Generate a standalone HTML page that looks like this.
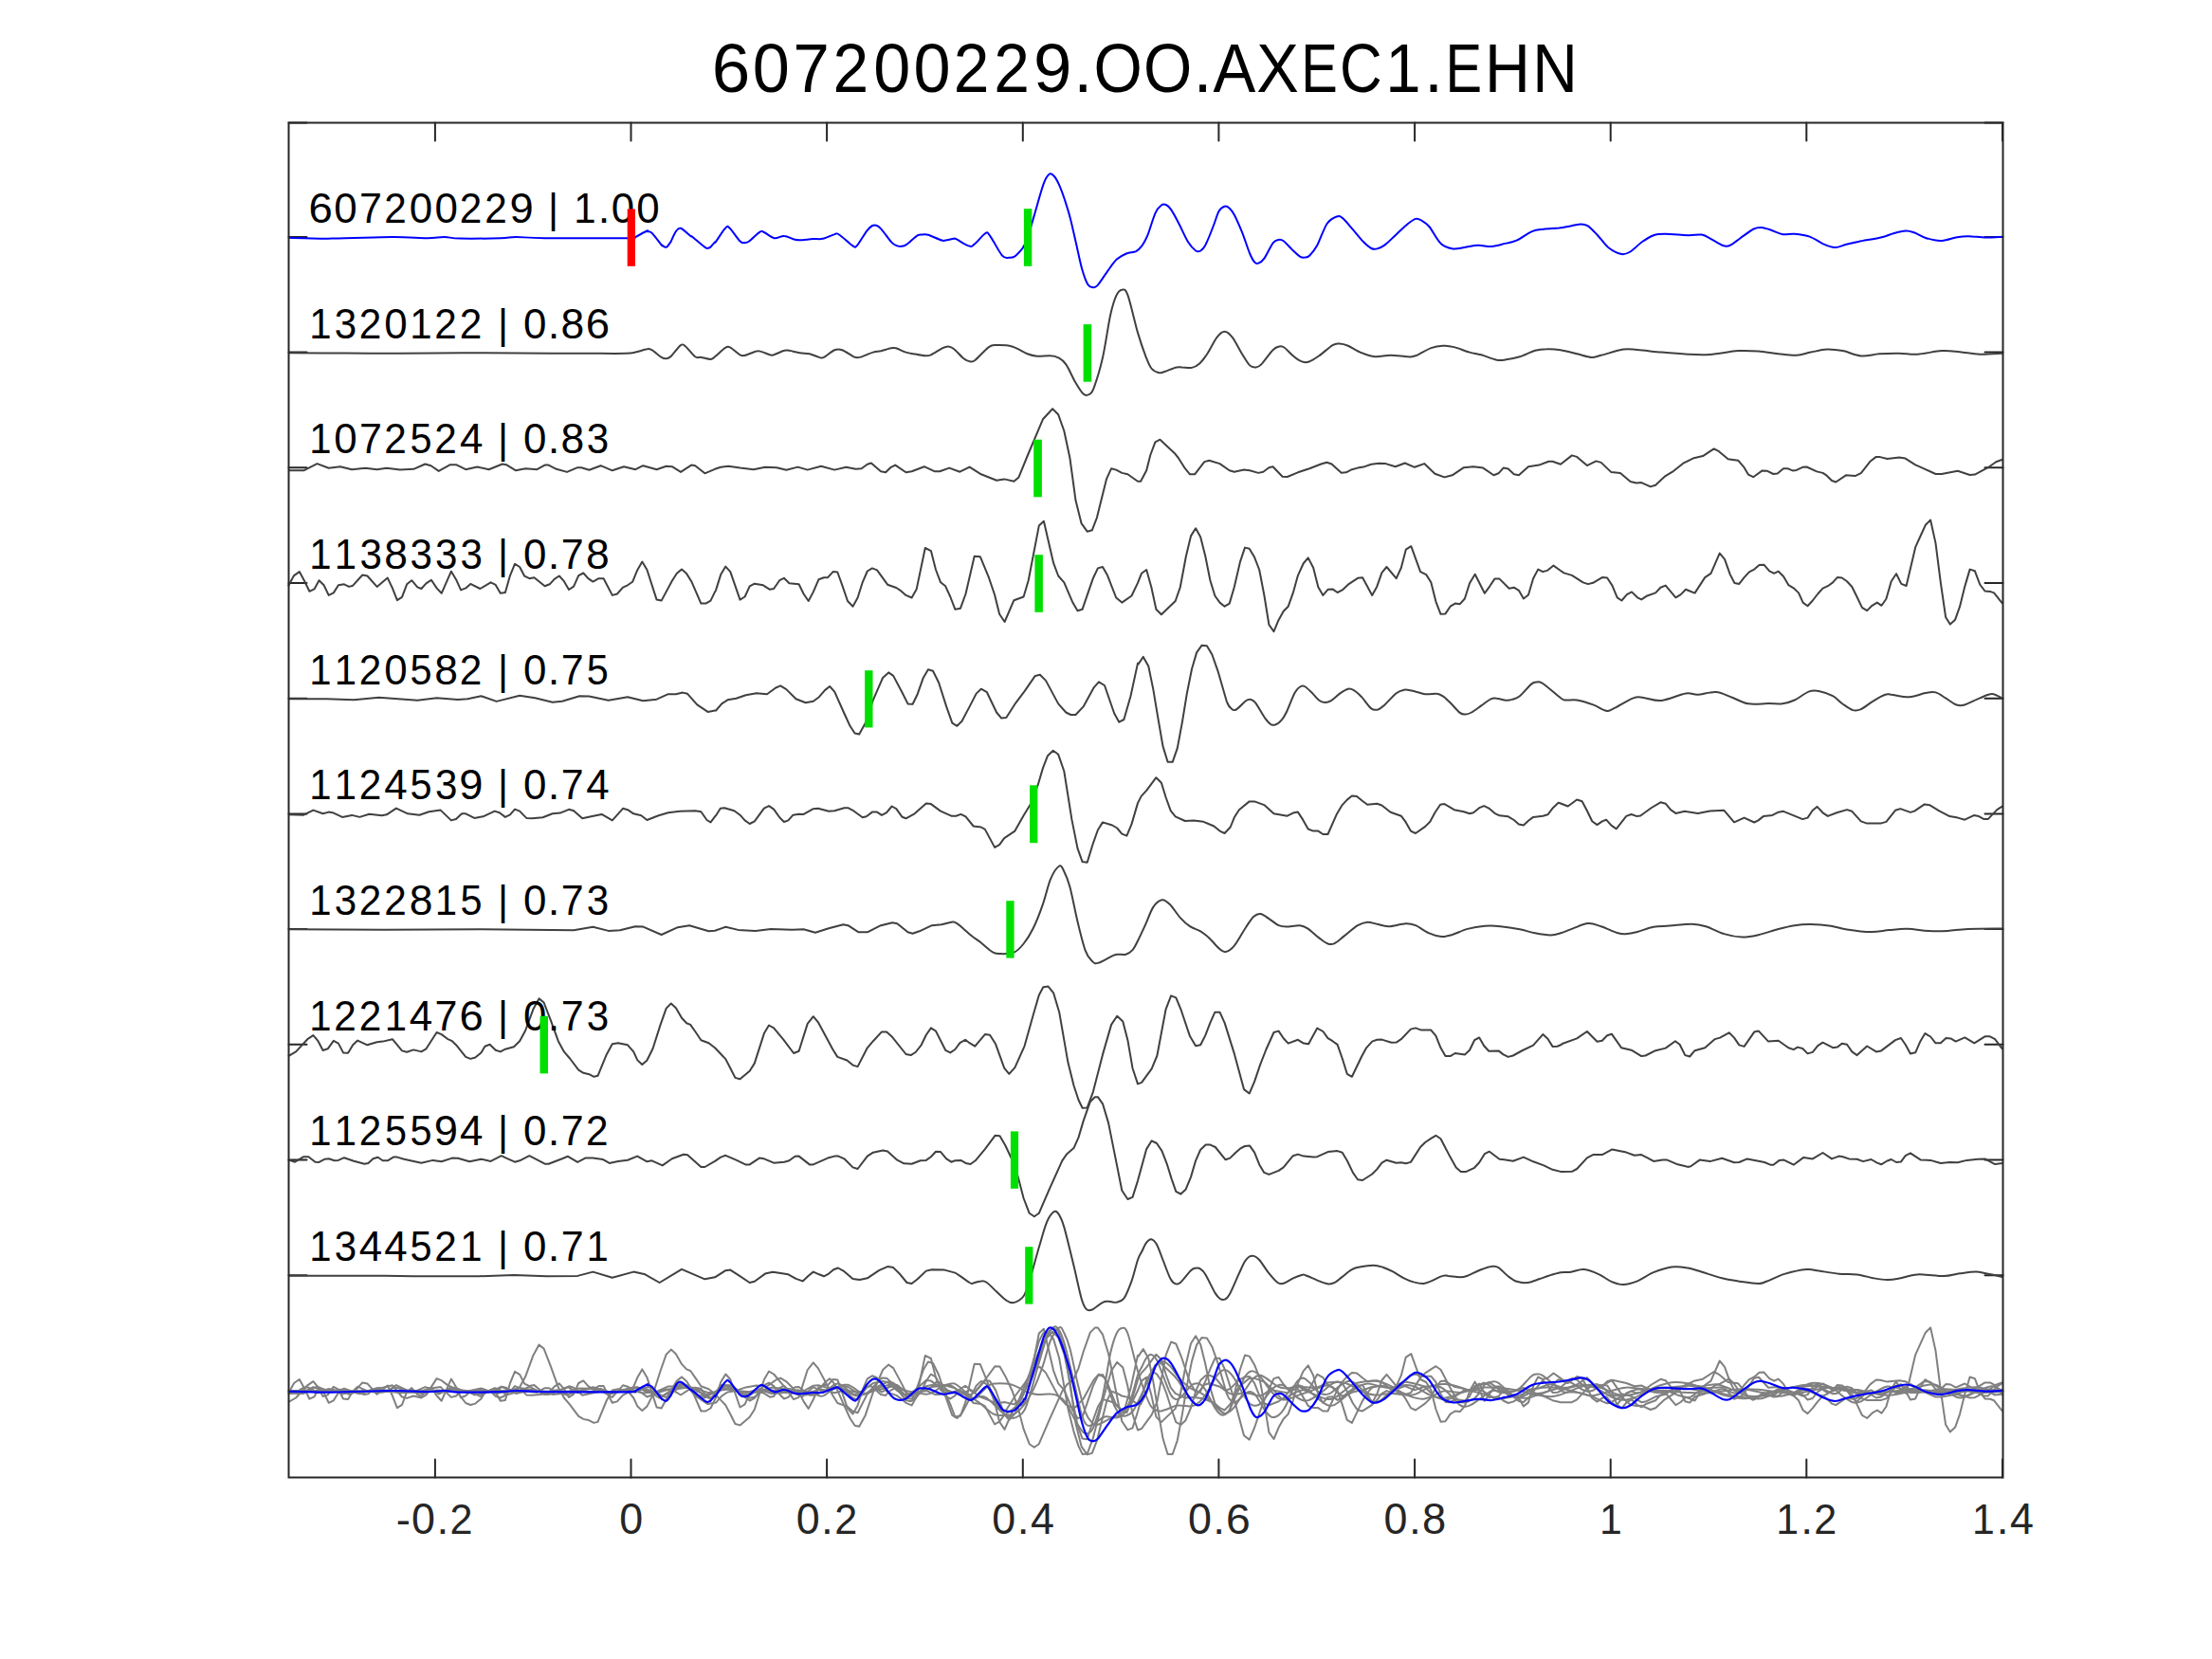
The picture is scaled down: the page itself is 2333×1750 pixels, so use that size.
<!DOCTYPE html>
<html><head><meta charset="utf-8"><style>
html,body{margin:0;padding:0;background:#fff;width:2333px;height:1750px;overflow:hidden}
svg{display:block}
text{font-family:"Liberation Sans",sans-serif}
.tl{font-size:45.3px;fill:#262626}
.ti{font-size:72.0px;fill:#000}
.lb{font-size:45.0px;fill:#000}
</style></head><body>
<svg width="2333" height="1750" viewBox="0 0 2333 1750">
<rect x="0" y="0" width="2333" height="1750" fill="#fff"/><path d="M458.9 129.5V148.5M458.9 1558.5V1539.5M665.5 129.5V148.5M665.5 1558.5V1539.5M872.1 129.5V148.5M872.1 1558.5V1539.5M1078.8 129.5V148.5M1078.8 1558.5V1539.5M1285.4 129.5V148.5M1285.4 1558.5V1539.5M1492.1 129.5V148.5M1492.1 1558.5V1539.5M1698.7 129.5V148.5M1698.7 1558.5V1539.5M1905.3 129.5V148.5M1905.3 1558.5V1539.5M2112.0 129.5V148.5M2112.0 1558.5V1539.5M304.5 129.5H323.5M2112.5 129.5H2093.5M304.5 249.9H323.5M2112.5 249.9H2093.5M304.5 371.6H323.5M2112.5 371.6H2093.5M304.5 493.3H323.5M2112.5 493.3H2093.5M304.5 615.0H323.5M2112.5 615.0H2093.5M304.5 736.7H323.5M2112.5 736.7H2093.5M304.5 858.4H323.5M2112.5 858.4H2093.5M304.5 980.1H323.5M2112.5 980.1H2093.5M304.5 1101.8H323.5M2112.5 1101.8H2093.5M304.5 1223.5H323.5M2112.5 1223.5H2093.5M304.5 1345.2H323.5M2112.5 1345.2H2093.5M304.5 1466.9H323.5M2112.5 1466.9H2093.5" stroke="#262626" stroke-width="2" stroke-linecap="round" fill="none"/><text transform="translate(417.75 1617.60) scale(1.011 1)" class="tl">-</text><text transform="translate(434.09 1617.60) scale(0.989 1)" class="tl">0</text><text transform="translate(460.42 1617.60) scale(1.015 1)" class="tl">.</text><text transform="translate(474.52 1617.60) scale(0.953 1)" class="tl">2</text><text transform="translate(653.33 1617.60) scale(0.989 1)" class="tl">0</text><text transform="translate(839.70 1617.60) scale(0.989 1)" class="tl">0</text><text transform="translate(866.03 1617.60) scale(1.015 1)" class="tl">.</text><text transform="translate(880.13 1617.60) scale(0.953 1)" class="tl">2</text><text transform="translate(1046.34 1617.60) scale(0.989 1)" class="tl">0</text><text transform="translate(1072.67 1617.60) scale(1.015 1)" class="tl">.</text><text transform="translate(1086.88 1617.60) scale(0.989 1)" class="tl">4</text><text transform="translate(1252.98 1617.60) scale(0.989 1)" class="tl">0</text><text transform="translate(1279.31 1617.60) scale(1.015 1)" class="tl">.</text><text transform="translate(1293.09 1617.60) scale(1.023 1)" class="tl">6</text><text transform="translate(1459.62 1617.60) scale(0.989 1)" class="tl">0</text><text transform="translate(1485.95 1617.60) scale(1.015 1)" class="tl">.</text><text transform="translate(1500.03 1617.60) scale(0.999 1)" class="tl">8</text><text transform="translate(1686.89 1617.60) scale(0.944 1)" class="tl">1</text><text transform="translate(1873.26 1617.60) scale(0.944 1)" class="tl">1</text><text transform="translate(1899.23 1617.60) scale(1.015 1)" class="tl">.</text><text transform="translate(1913.33 1617.60) scale(0.953 1)" class="tl">2</text><text transform="translate(2079.90 1617.60) scale(0.944 1)" class="tl">1</text><text transform="translate(2105.87 1617.60) scale(1.015 1)" class="tl">.</text><text transform="translate(2120.08 1617.60) scale(0.989 1)" class="tl">4</text><text transform="translate(750.71 96.80) scale(1.011 1)" class="ti">6</text><text transform="translate(793.83 96.80) scale(0.976 1)" class="ti">0</text><text transform="translate(836.56 96.80) scale(0.955 1)" class="ti">7</text><text transform="translate(878.53 96.80) scale(0.941 1)" class="ti">2</text><text transform="translate(921.14 96.80) scale(0.976 1)" class="ti">0</text><text transform="translate(963.57 96.80) scale(0.976 1)" class="ti">0</text><text transform="translate(1005.83 96.80) scale(0.941 1)" class="ti">2</text><text transform="translate(1048.26 96.80) scale(0.941 1)" class="ti">2</text><text transform="translate(1090.02 96.80) scale(1.009 1)" class="ti">9</text><text transform="translate(1132.20 96.80) scale(1.002 1)" class="ti">.</text><text transform="translate(1153.48 96.80) scale(0.916 1)" class="ti">O</text><text transform="translate(1205.98 96.80) scale(0.916 1)" class="ti">O</text><text transform="translate(1258.39 96.80) scale(1.002 1)" class="ti">.</text><text transform="translate(1279.44 96.80) scale(0.933 1)" class="ti">A</text><text transform="translate(1325.16 96.80) scale(0.927 1)" class="ti">X</text><text transform="translate(1372.17 96.80) scale(0.803 1)" class="ti">E</text><text transform="translate(1413.11 96.80) scale(0.860 1)" class="ti">C</text><text transform="translate(1461.29 96.80) scale(0.933 1)" class="ti">1</text><text transform="translate(1502.06 96.80) scale(1.002 1)" class="ti">.</text><text transform="translate(1524.52 96.80) scale(0.803 1)" class="ti">E</text><text transform="translate(1565.96 96.80) scale(0.921 1)" class="ti">H</text><text transform="translate(1616.15 96.80) scale(0.915 1)" class="ti">N</text><path d="M304.0 250.8C311.8 251.0 332.5 251.8 350.8 251.6C369.1 251.5 397.2 250.1 413.9 250.0C430.5 249.9 441.3 251.2 450.5 251.2C459.6 251.2 463.0 249.9 468.8 250.0C474.5 250.1 475.2 251.4 485.1 251.6C494.9 251.8 517.9 251.5 527.8 251.2C537.6 251.0 536.3 250.0 544.1 250.0C551.9 250.0 555.2 251.0 574.6 251.2C593.9 251.4 645.4 251.3 660.0 251.3C674.6 251.3 660.5 251.3 662.0 251.2C663.6 251.2 668.1 251.1 669.5 250.9C670.8 250.7 668.0 251.4 670.2 250.2C672.3 249.0 680.3 244.5 682.4 243.5C684.5 242.5 681.9 243.9 682.8 244.2C683.6 244.6 685.0 243.4 687.5 245.7C690.0 248.1 695.9 256.2 697.6 258.4C699.4 260.5 697.1 258.1 698.0 258.5C698.8 258.9 701.1 261.3 702.7 260.8C704.3 260.2 706.6 256.1 707.5 255.1C708.3 254.0 706.9 256.1 707.8 254.3C708.7 252.5 711.2 246.4 712.9 244.1C714.6 241.9 715.3 240.0 717.9 240.8C720.5 241.6 726.5 247.6 728.4 249.0C730.2 250.4 728.4 248.7 729.2 249.2C730.0 249.7 730.6 250.2 733.1 252.2C735.6 254.2 741.9 259.9 744.4 261.4C747.0 262.9 747.7 261.1 748.5 261.0C749.3 260.9 748.3 261.7 749.2 260.8C750.2 259.8 753.1 256.3 754.0 255.3C754.9 254.4 753.0 257.6 754.9 255.1C756.8 252.6 762.9 242.6 765.4 240.3C767.8 237.9 767.2 238.4 769.7 240.8C772.3 243.2 778.0 252.0 780.6 254.5C783.2 257.0 783.7 256.0 785.3 256.0C786.9 256.0 787.4 256.4 790.1 254.5C792.8 252.6 798.8 246.2 801.5 244.6C804.1 243.0 803.3 243.9 805.8 245.0C808.4 246.1 813.1 250.6 816.6 251.3C820.2 251.9 823.4 248.7 827.1 249.0C830.7 249.2 835.3 252.1 838.5 252.8C841.6 253.5 842.9 253.3 846.1 253.2C849.2 253.0 853.8 252.2 857.5 252.0C861.1 251.8 864.1 252.7 867.9 251.8C871.7 251.0 877.4 247.8 880.3 247.1C883.1 246.4 881.8 245.4 885.0 247.5C888.2 249.5 896.1 257.3 899.2 259.2C902.4 261.1 901.5 261.5 904.0 258.9C906.5 256.2 911.7 246.8 914.4 243.3C917.1 239.8 918.4 238.9 920.1 238.0C921.9 237.1 923.3 237.3 924.9 238.0C926.5 238.6 927.1 238.9 929.6 241.8C932.2 244.7 937.4 252.5 940.1 255.4C942.8 258.4 944.0 258.5 945.8 259.2C947.5 260.0 948.8 260.0 950.5 259.8C952.2 259.6 953.4 259.8 956.2 257.9C959.1 256.0 964.7 250.2 967.6 248.4C970.4 246.7 971.4 247.6 973.3 247.5C975.2 247.4 975.7 246.8 979.0 247.8C982.3 248.9 990.2 252.6 993.2 253.5C996.2 254.5 995.0 253.8 997.0 253.5C999.1 253.3 1003.7 252.1 1005.6 251.8C1007.5 251.6 1005.7 250.9 1008.4 252.2C1011.1 253.5 1018.5 258.5 1021.7 259.4C1024.9 260.4 1024.6 260.1 1027.4 257.9C1030.3 255.8 1036.1 248.2 1038.8 246.5C1041.5 244.8 1040.5 244.1 1043.5 247.8C1046.6 251.6 1053.4 265.3 1056.8 269.3C1060.3 273.3 1062.2 271.6 1064.4 271.8C1066.6 272.0 1067.7 272.1 1070.0 270.6C1072.3 269.0 1076.5 264.4 1078.1 262.4C1079.8 260.5 1079.3 259.9 1080.0 258.9C1080.7 257.8 1080.5 261.3 1082.2 256.3C1083.9 251.3 1087.3 239.2 1090.3 228.9C1093.4 218.5 1097.8 201.8 1100.5 194.3C1103.2 186.7 1104.8 185.1 1106.6 183.7C1108.5 182.3 1110.0 184.0 1111.7 185.7C1113.4 187.5 1114.9 190.1 1116.8 194.3C1118.7 198.4 1120.9 204.4 1122.9 210.5C1124.9 216.7 1127.0 223.1 1129.0 230.9C1131.0 238.7 1133.1 248.5 1135.1 257.3C1137.1 266.2 1139.2 276.7 1141.2 283.8C1143.2 290.9 1145.4 296.8 1147.3 300.1C1149.2 303.3 1150.7 302.9 1152.4 303.1C1154.1 303.3 1154.9 303.8 1157.5 301.1C1160.0 298.4 1164.3 291.4 1167.6 286.8C1171.0 282.3 1174.4 276.8 1177.8 273.6C1181.2 270.4 1184.6 268.9 1188.0 267.5C1191.4 266.1 1195.5 266.4 1198.2 265.1C1200.9 263.7 1202.2 262.2 1204.3 259.4C1206.3 256.6 1208.0 253.9 1210.4 248.2C1212.7 242.4 1216.1 230.0 1218.5 224.8C1220.9 219.5 1222.7 218.1 1224.6 216.7C1226.5 215.2 1228.0 215.4 1229.7 216.0C1231.4 216.7 1232.6 217.6 1234.8 220.7C1237.0 223.9 1239.9 229.2 1242.9 235.0C1246.0 240.7 1250.0 250.4 1253.1 255.3C1256.1 260.2 1259.0 262.9 1261.2 264.5C1263.4 266.0 1264.6 265.5 1266.3 264.5C1268.0 263.4 1269.2 262.6 1271.4 258.4C1273.6 254.1 1277.2 245.0 1279.5 239.0C1281.9 233.1 1283.6 226.3 1285.6 222.8C1287.7 219.2 1289.9 218.2 1291.7 217.7C1293.6 217.2 1295.1 218.2 1296.8 219.7C1298.5 221.2 1299.7 222.6 1301.9 226.8C1304.1 231.1 1307.3 238.4 1310.1 245.1C1312.8 251.9 1316.0 262.3 1318.2 267.5C1320.4 272.8 1321.8 275.0 1323.3 276.7C1324.8 278.4 1325.7 278.4 1327.3 277.7C1329.0 277.0 1330.9 276.2 1333.4 272.6C1336.0 269.0 1340.1 259.6 1342.6 256.3C1345.1 253.0 1346.8 253.2 1348.7 252.9C1350.6 252.5 1351.4 252.5 1353.8 254.3C1356.2 256.1 1360.1 260.7 1362.9 263.4C1365.8 266.2 1368.9 269.2 1371.1 270.6C1373.3 271.9 1374.5 271.7 1376.2 271.6C1377.9 271.4 1379.1 271.8 1381.3 269.5C1383.5 267.3 1386.3 264.0 1389.4 258.4C1392.4 252.8 1396.2 241.0 1399.6 236.0C1403.0 231.0 1407.0 229.5 1409.7 228.5C1412.5 227.4 1413.1 227.8 1415.8 229.9C1418.6 232.0 1422.3 236.8 1426.0 241.1C1429.7 245.3 1434.8 251.8 1438.2 255.3C1441.6 258.8 1444.0 260.8 1446.4 262.0C1448.7 263.2 1450.1 263.0 1452.5 262.4C1454.8 261.8 1457.2 260.9 1460.6 258.4C1464.0 255.8 1468.7 250.9 1472.8 247.2C1476.9 243.4 1481.6 238.7 1485.0 236.0C1488.4 233.3 1490.8 231.5 1493.1 230.9C1495.5 230.3 1496.9 231.2 1499.2 232.5C1501.6 233.9 1503.9 234.9 1507.4 239.0C1510.8 243.2 1515.8 253.4 1520.0 257.3C1524.2 261.2 1528.3 261.8 1532.4 262.4C1536.5 263.0 1540.2 261.6 1544.6 261.0C1549.0 260.4 1554.1 258.9 1558.8 258.8C1563.6 258.6 1568.3 260.3 1573.1 260.0C1577.8 259.7 1582.9 258.0 1587.3 256.9C1591.7 255.9 1594.8 255.8 1599.5 253.7C1604.3 251.5 1611.0 246.1 1615.8 244.1C1620.5 242.1 1623.2 242.3 1628.0 241.7C1632.7 241.1 1639.5 241.0 1644.3 240.5C1649.0 239.9 1652.6 239.1 1656.5 238.4C1660.4 237.7 1664.6 236.4 1667.7 236.4C1670.7 236.4 1671.9 236.5 1674.8 238.4C1677.7 240.4 1681.2 244.3 1685.0 248.2C1688.7 252.1 1692.9 258.5 1697.2 261.8C1701.4 265.1 1706.7 267.5 1710.4 268.1C1714.1 268.7 1716.0 267.6 1719.5 265.5C1723.1 263.3 1727.7 258.2 1731.7 255.3C1735.8 252.4 1739.9 249.6 1744.0 248.2C1748.0 246.8 1750.1 246.8 1756.2 246.8C1762.3 246.8 1774.1 248.0 1780.6 248.2C1787.0 248.3 1790.7 246.9 1794.8 247.6C1798.9 248.3 1801.3 250.4 1805.0 252.3C1808.7 254.2 1814.0 257.8 1817.2 259.0C1820.4 260.1 1821.3 260.3 1824.3 259.0C1827.4 257.7 1831.3 254.2 1835.5 251.2C1839.7 248.3 1846.0 243.3 1849.7 241.5C1853.5 239.6 1854.8 239.8 1857.9 240.0C1860.9 240.3 1864.3 241.5 1868.0 242.7C1871.8 243.9 1876.2 246.5 1880.3 247.2C1884.3 247.8 1887.7 246.4 1892.5 246.8C1897.2 247.2 1903.6 247.8 1908.7 249.6C1913.8 251.4 1918.6 255.4 1923.0 257.3C1927.4 259.2 1931.1 260.9 1935.2 261.0C1939.2 261.1 1943.3 258.8 1947.4 257.7C1951.5 256.7 1953.8 256.2 1960.0 254.9C1966.2 253.6 1978.6 251.7 1984.8 250.2C1991.0 248.8 1992.8 247.3 1997.0 246.2C2001.3 245.0 2006.5 243.6 2010.2 243.5C2014.0 243.4 2015.8 244.3 2019.4 245.5C2023.0 246.8 2026.9 249.8 2031.6 251.2C2036.3 252.6 2042.5 254.1 2047.9 253.9C2053.3 253.7 2059.4 251.0 2064.2 250.2C2068.9 249.4 2071.3 249.1 2076.4 249.2C2081.4 249.3 2088.6 250.5 2094.7 250.6C2100.7 250.7 2109.6 249.9 2112.6 249.8" stroke="#0000ff" stroke-width="2" fill="none" stroke-linejoin="round"/>
<path d="M304.0 372.2C314.2 372.3 345.4 372.5 365.0 372.6C384.7 372.7 401.6 372.9 422.0 372.8C442.3 372.8 466.1 372.3 487.1 372.2C508.1 372.2 525.1 372.5 548.1 372.6C571.2 372.7 606.8 372.8 625.4 372.8C644.1 372.9 652.6 373.0 660.0 372.8C667.5 372.6 666.5 372.4 670.2 371.6C673.9 370.8 679.5 368.6 682.4 368.2C685.3 367.7 684.9 367.7 687.5 369.2C690.0 370.6 695.1 375.4 697.6 376.9C700.2 378.4 701.0 378.5 702.7 378.3C704.4 378.1 705.3 378.1 707.8 375.7C710.4 373.3 715.4 365.8 718.0 364.1C720.5 362.4 720.5 363.5 723.1 365.5C725.6 367.5 730.5 374.4 733.2 376.3C736.0 378.2 736.6 376.5 739.4 376.9C742.1 377.3 747.1 379.0 749.5 378.9C752.0 378.8 751.4 378.3 754.0 376.3C756.6 374.3 762.5 368.3 765.3 366.7C768.0 365.1 767.8 365.5 770.3 366.7C772.9 368.0 778.0 372.9 780.5 374.3C783.1 375.6 782.9 375.4 785.6 374.9C788.3 374.3 794.1 371.5 796.8 370.8C799.5 370.1 799.3 370.0 801.9 370.6C804.4 371.2 809.7 373.6 812.0 374.3C814.4 374.9 813.6 375.0 816.1 374.3C818.7 373.5 824.6 370.5 827.3 369.8C830.0 369.0 829.7 369.4 832.4 369.8C835.1 370.2 840.0 371.6 843.6 372.2C847.1 372.8 850.4 372.5 853.8 373.2C857.1 374.0 861.4 376.3 863.9 376.9C866.5 377.5 866.3 378.2 869.0 376.9C871.7 375.6 877.0 370.5 880.2 369.2C883.4 367.9 884.9 368.0 888.3 369.2C891.7 370.4 897.5 375.0 900.5 376.3C903.6 377.6 903.3 377.7 906.6 376.9C910.0 376.1 917.2 372.7 920.9 371.6C924.6 370.5 925.6 370.9 929.0 370.2C932.4 369.4 938.3 367.5 941.2 367.1C944.1 366.7 943.9 367.0 946.3 367.7C948.7 368.5 952.2 370.6 955.5 371.6C958.7 372.6 962.3 373.0 965.6 373.6C969.0 374.3 973.1 375.2 975.8 375.3C978.5 375.4 978.9 375.6 981.9 374.3C985.0 372.9 991.1 368.6 994.1 367.1C997.2 365.7 998.2 365.3 1000.2 365.5C1002.3 365.7 1003.6 366.0 1006.3 368.2C1009.0 370.3 1013.6 376.1 1016.5 378.3C1019.4 380.5 1021.6 381.1 1023.6 381.4C1025.7 381.6 1025.5 382.3 1028.7 379.7C1031.9 377.2 1039.2 368.7 1042.9 366.1C1046.7 363.5 1047.0 364.2 1051.1 364.1C1055.2 364.0 1061.9 364.0 1067.4 365.5C1072.8 367.0 1079.2 371.5 1083.6 373.2C1088.0 374.9 1089.7 375.3 1093.8 375.7C1097.9 376.0 1104.3 375.0 1108.0 375.3C1111.8 375.5 1113.5 375.8 1116.2 377.3C1118.9 378.8 1121.3 380.0 1124.3 384.4C1127.4 388.8 1131.4 398.6 1134.5 403.8C1137.5 408.9 1140.3 413.5 1142.6 415.6C1145.0 417.6 1146.9 417.1 1148.7 416.0C1150.6 414.8 1151.4 415.3 1153.8 408.8C1156.2 402.4 1160.1 390.0 1163.0 377.3C1165.9 364.6 1168.7 343.4 1171.1 332.5C1173.5 321.7 1175.2 316.7 1177.2 312.2C1179.2 307.7 1181.3 305.9 1183.3 305.7C1185.4 305.5 1186.6 303.7 1189.4 311.2C1192.2 318.7 1196.9 340.2 1200.0 350.9C1203.1 361.5 1205.8 369.0 1208.2 375.3C1210.6 381.5 1211.9 385.5 1214.3 388.5C1216.7 391.5 1220.1 392.6 1222.4 393.2C1224.8 393.8 1225.5 392.9 1228.5 392.0C1231.6 391.0 1237.7 388.2 1240.8 387.5C1243.8 386.7 1244.1 387.4 1246.9 387.5C1249.6 387.5 1254.0 388.6 1257.0 387.9C1260.1 387.2 1262.5 385.8 1265.2 383.4C1267.9 381.0 1270.3 377.8 1273.3 373.2C1276.4 368.7 1280.4 359.8 1283.5 355.9C1286.5 352.0 1288.9 349.8 1291.6 349.8C1294.3 349.8 1296.7 352.0 1299.8 355.9C1302.8 359.8 1306.9 368.3 1309.9 373.2C1313.0 378.2 1315.7 383.1 1318.1 385.4C1320.4 387.8 1322.1 387.6 1324.2 387.5C1326.2 387.3 1327.2 387.5 1330.3 384.4C1333.3 381.4 1339.3 372.3 1342.5 369.2C1345.7 366.0 1347.6 365.9 1349.6 365.5C1351.6 365.1 1352.1 364.9 1354.7 366.7C1357.2 368.5 1361.8 373.8 1364.9 376.3C1367.9 378.7 1370.4 380.5 1373.0 381.4C1375.5 382.3 1377.1 382.8 1380.1 381.8C1383.2 380.8 1387.1 378.2 1391.3 375.3C1395.5 372.3 1402.0 366.2 1405.5 364.1C1409.1 361.9 1409.9 362.4 1412.7 362.5C1415.4 362.6 1417.9 363.1 1421.8 364.7C1425.7 366.3 1431.3 370.3 1436.1 372.2C1440.8 374.2 1445.2 375.9 1450.3 376.3C1455.4 376.7 1460.8 374.7 1466.6 374.7C1472.3 374.7 1480.5 376.2 1484.9 376.3C1489.3 376.4 1488.9 376.8 1493.0 375.3C1497.1 373.7 1504.5 368.9 1509.3 367.1C1514.0 365.4 1517.4 364.9 1521.5 364.7C1525.6 364.5 1529.0 365.0 1533.7 366.1C1538.5 367.3 1545.2 370.3 1550.0 371.6C1554.7 373.0 1557.4 372.9 1562.2 374.3C1566.9 375.6 1574.1 378.9 1578.5 379.7C1582.9 380.6 1584.6 379.9 1588.6 379.3C1592.7 378.8 1597.8 377.9 1602.9 376.3C1608.0 374.7 1614.4 371.1 1619.1 369.8C1623.9 368.4 1626.9 368.3 1631.4 368.2C1635.8 368.0 1640.7 368.3 1646.0 369.2C1651.3 370.0 1657.9 372.0 1663.2 373.3C1668.6 374.6 1673.9 376.7 1678.1 376.9C1682.4 377.2 1683.1 376.2 1688.7 374.8C1694.4 373.4 1705.7 369.6 1712.1 368.6C1718.5 367.7 1720.3 368.6 1727.0 369.1C1733.7 369.6 1743.6 370.8 1752.5 371.6C1761.3 372.4 1771.6 373.3 1780.1 373.7C1788.6 374.1 1794.6 374.5 1803.5 373.9C1812.3 373.3 1824.7 370.7 1833.2 370.1C1841.7 369.6 1847.4 370.0 1854.5 370.5C1861.6 371.1 1869.0 372.6 1875.7 373.3C1882.5 374.0 1889.2 375.1 1894.8 374.8C1900.5 374.5 1904.4 372.6 1909.7 371.6C1915.0 370.6 1921.1 368.9 1926.7 368.6C1932.4 368.4 1937.7 369.0 1943.7 370.1C1949.7 371.3 1956.5 374.9 1962.8 375.4C1969.2 376.0 1975.2 373.8 1982.0 373.3C1988.7 372.8 1996.5 372.6 2003.2 372.7C2009.9 372.7 2014.9 374.2 2022.3 373.7C2029.8 373.3 2040.4 370.5 2047.8 370.1C2055.3 369.7 2060.2 370.6 2067.0 371.2C2073.7 371.8 2080.7 373.5 2088.2 373.7C2095.7 374.0 2108.0 372.8 2112.0 372.7" stroke="#404040" stroke-width="2" fill="none" stroke-linejoin="round"/>
<path d="M304.0 496.3 320.3 496.3 334.5 489.1 346.7 493.8 358.9 492.2 371.1 495.2 385.4 493.8 397.6 495.2 407.8 493.8 422.0 495.6 436.2 494.8 448.4 489.5 454.5 491.2 462.7 496.9 474.9 490.2 481.0 490.2 491.2 495.2 503.4 492.6 515.6 495.2 529.8 489.5 533.9 490.2 544.1 496.3 554.2 494.2 566.4 495.2 574.6 490.6 578.6 490.6 586.8 494.8 598.0 497.9 609.2 493.2 613.2 493.2 621.4 495.8 633.6 491.2 645.8 496.3 658.0 492.2 670.2 495.2 678.3 491.2 692.6 495.2 702.7 491.8 708.8 492.2 718.0 497.9 729.2 490.6 733.2 491.2 743.4 499.3 754.0 494.8 760.2 492.8 768.3 491.8 780.5 493.6 794.8 495.2 807.0 492.8 819.2 493.2 829.3 495.8 841.5 492.6 851.7 495.6 866.0 491.8 880.2 495.6 892.4 492.8 902.6 494.8 908.7 494.2 914.8 489.7 918.9 488.5 929.0 497.3 934.1 498.3 939.2 493.2 944.3 490.6 955.5 498.3 961.6 497.3 974.8 492.2 986.0 497.3 991.1 497.3 1001.2 493.6 1012.4 497.7 1022.6 492.6 1034.8 500.3 1051.1 506.8 1059.2 505.4 1069.4 507.8 1074.5 503.4 1083.6 481.0 1099.9 442.3 1110.1 431.2 1116.2 437.3 1122.3 454.5 1128.4 483.0 1134.5 527.8 1140.6 552.2 1146.7 560.7 1151.8 559.3 1156.9 546.1 1167.0 505.4 1172.1 494.2 1177.2 495.6 1183.3 498.9 1189.4 500.3 1200.0 507.8 1203.1 507.8 1209.2 496.3 1213.3 480.0 1218.4 466.3 1223.5 463.7 1238.7 477.9 1242.8 483.0 1249.9 494.2 1255.0 500.3 1260.1 500.3 1270.3 487.1 1275.3 485.7 1286.5 489.1 1296.7 496.3 1301.8 497.7 1312.0 495.6 1318.1 496.3 1327.2 498.9 1332.3 497.7 1338.4 493.2 1342.5 492.2 1352.6 502.8 1357.7 503.0 1368.9 498.3 1381.1 494.2 1393.3 489.5 1399.4 487.7 1404.5 489.5 1414.7 498.7 1419.8 498.3 1425.9 495.2 1432.0 493.6 1438.1 492.6 1446.2 489.7 1454.4 488.7 1461.5 489.1 1471.7 492.2 1481.8 488.5 1492.0 492.8 1502.2 489.1 1513.4 499.7 1523.5 503.4 1531.7 501.3 1543.9 493.2 1554.0 492.2 1564.2 493.6 1575.4 501.3 1580.5 499.3 1585.6 493.6 1590.7 494.6 1596.8 500.3 1601.9 501.3 1612.0 492.2 1623.2 490.6 1633.4 486.7 1637.5 486.7 1646.0 489.7 1657.9 480.4 1663.2 481.9 1673.9 491.1 1683.4 486.4 1688.7 487.9 1699.4 498.1 1708.9 498.9 1719.6 508.1 1725.9 509.5 1731.2 509.1 1740.8 513.4 1746.1 511.7 1755.7 502.7 1765.2 496.8 1775.9 488.3 1786.5 483.2 1796.0 481.1 1807.7 473.4 1813.0 476.2 1822.6 484.3 1833.2 485.7 1839.6 493.2 1843.9 500.6 1849.2 503.2 1858.7 496.4 1864.0 496.8 1870.4 500.0 1874.7 499.6 1881.0 494.2 1885.3 494.2 1890.6 496.4 1894.8 495.9 1901.2 492.8 1905.5 492.5 1916.1 497.4 1922.5 498.9 1926.7 501.7 1932.0 507.0 1936.3 508.5 1946.9 501.3 1956.5 502.1 1962.8 499.1 1972.4 486.8 1978.8 481.9 1983.0 482.1 1990.5 484.0 2003.2 482.6 2009.6 483.6 2020.2 490.4 2028.7 494.2 2041.5 500.0 2047.8 500.0 2064.8 496.8 2077.6 501.0 2082.9 500.6 2096.7 493.2 2105.2 487.2 2112.0 484.7" stroke="#404040" stroke-width="2" fill="none" stroke-linejoin="round"/>
<path d="M304.0 618.3 310.1 607.1 315.8 603.1 321.3 613.2 326.4 623.8 331.5 621.4 336.5 612.2 341.6 617.3 346.7 627.9 351.8 625.4 356.9 617.3 363.0 616.3 368.1 618.9 372.2 617.7 382.3 606.5 387.4 607.5 397.6 618.9 408.8 609.6 413.9 620.4 418.9 633.2 424.0 629.9 429.1 616.3 434.2 612.2 440.3 619.3 444.4 621.0 449.5 615.3 454.9 611.8 460.6 620.4 465.7 625.8 475.9 602.7 481.0 611.2 486.1 622.4 491.2 620.4 496.2 615.9 506.4 621.0 517.6 614.3 522.7 616.9 527.8 625.8 532.9 625.0 538.0 607.1 543.0 594.9 548.1 598.0 553.2 607.7 558.3 610.2 563.4 609.2 574.6 618.3 579.7 616.3 584.7 610.8 589.8 607.5 594.9 613.2 600.0 622.0 605.1 618.7 610.2 607.1 615.3 604.5 620.3 610.2 625.4 613.6 631.5 610.2 636.6 610.2 645.8 627.9 650.9 626.5 657.0 619.7 662.0 617.3 667.1 613.8 672.2 601.4 677.3 592.5 682.4 601.0 692.6 632.6 697.6 633.6 708.8 612.8 713.9 604.7 719.0 600.6 724.1 605.1 729.2 613.2 739.4 636.6 744.4 636.6 749.5 633.6 754.0 624.4 755.1 622.4 760.2 606.1 765.3 597.6 770.3 603.1 780.5 632.6 785.6 629.5 790.7 618.3 795.8 615.7 804.9 617.3 812.0 621.8 816.1 621.0 822.2 612.2 826.9 609.8 832.4 615.3 842.6 616.3 847.6 626.5 852.7 634.0 857.8 624.4 863.5 611.2 869.0 609.2 873.1 609.2 878.6 603.1 883.3 603.5 888.3 617.3 894.0 634.0 899.5 639.7 904.6 630.5 909.7 614.3 914.8 602.5 919.9 599.4 925.0 601.4 936.1 616.7 945.3 620.0 950.4 623.4 955.5 627.9 961.6 630.5 966.7 621.4 975.8 578.0 981.9 581.1 987.0 601.0 992.1 614.3 997.2 618.3 1002.3 629.5 1007.3 642.7 1013.0 641.7 1018.5 626.5 1027.7 586.8 1033.8 587.2 1042.9 609.2 1049.1 627.5 1054.1 647.8 1059.6 656.0 1069.4 633.2 1079.6 629.5 1084.7 612.2 1095.8 554.6 1100.9 549.8 1111.1 593.9 1116.2 607.5 1122.3 614.3 1131.4 635.6 1136.5 644.2 1141.6 642.7 1152.8 610.2 1157.9 599.4 1163.0 598.0 1168.1 607.1 1177.2 630.5 1183.3 635.6 1193.5 628.5 1200.0 614.9 1204.1 604.7 1209.2 601.0 1214.3 619.3 1219.4 642.7 1224.9 648.2 1230.6 642.7 1239.7 634.0 1244.8 619.3 1250.9 586.8 1256.0 565.4 1261.1 557.3 1266.2 566.4 1271.3 586.8 1276.4 612.2 1281.4 628.5 1286.5 635.6 1291.6 639.7 1296.7 636.6 1301.8 619.3 1307.9 592.9 1313.0 577.6 1317.7 578.7 1323.1 587.8 1328.2 601.0 1333.3 627.5 1338.4 659.0 1343.5 666.1 1348.6 653.9 1353.7 644.8 1358.7 639.7 1363.8 625.4 1368.9 607.1 1374.6 594.5 1379.7 588.4 1385.2 599.0 1390.3 619.3 1395.4 627.9 1400.5 621.8 1405.5 621.4 1410.6 625.0 1415.7 622.4 1421.8 616.7 1432.0 609.8 1437.1 609.2 1447.2 627.9 1452.3 618.7 1457.4 604.1 1462.5 598.0 1472.7 610.2 1477.8 599.0 1482.8 579.7 1488.3 576.2 1498.1 603.1 1504.2 606.1 1509.3 614.3 1514.4 634.6 1519.5 647.8 1524.5 647.4 1529.6 639.7 1534.7 636.6 1539.8 637.2 1544.9 631.5 1550.0 615.3 1555.7 605.7 1565.8 625.8 1571.3 618.3 1576.4 610.6 1581.5 610.6 1591.7 620.8 1596.8 619.7 1601.9 622.8 1606.9 631.5 1612.0 627.5 1617.1 610.2 1622.2 600.6 1627.3 603.1 1632.4 601.6 1638.5 596.6 1646.0 602.0 1649.4 604.4 1657.9 606.9 1669.6 614.4 1674.9 616.1 1680.2 614.8 1689.8 609.1 1695.1 609.5 1700.4 617.6 1705.7 630.3 1710.4 633.5 1715.9 627.1 1721.0 624.4 1727.0 630.3 1731.2 632.4 1736.6 628.8 1746.1 625.4 1751.4 619.7 1756.7 617.6 1767.4 630.3 1772.7 627.1 1778.0 621.8 1787.5 625.6 1798.2 609.1 1804.5 604.8 1813.7 583.6 1819.0 589.9 1824.7 605.9 1829.4 615.0 1834.3 615.9 1839.6 609.1 1844.9 603.3 1850.2 600.6 1855.5 595.9 1860.4 595.7 1866.2 602.3 1871.1 604.8 1875.7 602.7 1881.0 608.0 1886.3 617.1 1891.7 620.3 1897.0 625.4 1901.6 635.6 1906.5 639.2 1911.8 633.5 1917.2 626.5 1922.5 620.7 1927.8 618.2 1933.1 614.4 1937.8 609.1 1942.7 609.5 1948.0 613.3 1953.3 619.0 1958.6 629.7 1963.9 640.9 1969.2 644.1 1974.5 638.8 1979.8 635.6 1984.5 638.8 1989.4 631.8 1994.7 613.3 2000.0 605.2 2005.3 615.9 2010.6 618.0 2020.2 577.2 2025.5 565.5 2030.8 553.8 2036.1 548.5 2041.5 572.9 2046.8 614.4 2052.1 650.9 2056.8 658.6 2062.1 653.7 2067.0 639.9 2072.3 618.6 2077.6 600.6 2082.9 602.3 2088.2 616.5 2093.5 623.5 2098.8 623.9 2103.1 625.4 2112.0 636.7" stroke="#404040" stroke-width="2" fill="none" stroke-linejoin="round"/>
<path d="M304.0 737.3L344.7 737.3L373.2 738.3L399.6 735.8L440.3 738.7L460.6 736.3L483.0 737.9L493.2 737.3L507.4 734.2L523.7 739.9L548.1 733.8L564.4 736.3L582.7 740.7L592.9 739.7L611.2 734.2L621.4 734.6L641.7 738.7L662.0 735.2L678.3 739.3L692.6 737.7L704.8 732.2L712.9 732.2L720.0 730.6L725.1 731.8L735.3 743.4L746.5 750.9L754.0 749.5L755.1 749.5L761.2 742.4L767.3 738.3L776.4 736.7L786.6 733.2L797.8 731.2L809.0 732.2L818.2 725.5L823.2 723.4L829.3 727.1L839.5 737.3L849.7 741.3L857.8 739.7L863.9 735.2L870.0 728.1L875.1 724.0L880.2 729.7L890.4 752.5L896.5 765.8L901.6 773.5L906.2 774.5L912.7 762.7L920.9 738.3L931.1 714.9L937.2 709.4L942.2 712.9L951.4 730.2L957.5 742.4L962.6 742.8L967.7 732.2L973.8 714.9L978.9 706.3L984.0 707.8L990.1 720.0L998.2 745.4L1004.3 762.7L1009.4 765.8L1014.5 760.7L1022.6 745.4L1029.7 731.6L1034.8 726.7L1040.9 730.2L1051.1 751.5L1056.2 757.6L1061.3 757.0L1071.4 741.3L1080.6 729.1L1091.8 712.9L1096.9 711.8L1103.0 717.9L1116.2 742.4L1124.3 751.5L1129.4 754.0L1134.5 754.0L1142.6 745.4L1153.8 725.1L1158.9 719.4L1165.0 723.0L1175.2 752.5L1180.3 761.7L1185.4 759.0L1192.5 734.2L1200.0 699.6L1200.5 700.7L1205.8 692.9L1211.3 702.7L1216.3 727.1L1221.4 757.6L1226.5 787.1L1231.6 803.8L1236.7 803.8L1241.8 789.1L1246.9 761.7L1251.9 731.2L1257.0 705.7L1262.1 688.4L1267.6 680.7L1272.9 681.3L1278.4 690.5L1284.5 707.8L1293.6 739.3C1296.0 745.9 1297.0 745.9 1298.7 747.4C1300.4 749.0 1301.3 749.8 1303.8 748.5C1306.4 747.1 1311.4 741.1 1314.0 739.3C1316.5 737.5 1317.4 737.5 1319.1 737.9C1320.8 738.2 1321.6 738.1 1324.2 741.3C1326.7 744.6 1331.6 753.8 1334.3 757.6C1337.0 761.4 1338.6 763.0 1340.4 764.1C1342.3 765.2 1343.7 765.1 1345.5 764.3C1347.4 763.6 1349.8 761.8 1351.6 759.6C1353.5 757.5 1354.3 756.4 1356.7 751.5C1359.1 746.6 1363.3 734.7 1365.9 730.2C1368.4 725.6 1370.3 725.1 1372.0 724.0C1373.7 723.0 1374.2 723.0 1376.0 724.0C1377.9 725.1 1380.6 727.7 1383.2 730.2C1385.7 732.6 1388.9 736.9 1391.3 738.7C1393.7 740.5 1395.4 740.8 1397.4 740.9C1399.4 741.0 1400.8 740.9 1403.5 739.3C1406.2 737.7 1410.6 733.3 1413.7 731.2C1416.7 729.1 1419.4 727.2 1421.8 726.7C1424.2 726.2 1425.5 726.7 1427.9 728.1C1430.3 729.5 1433.0 732.0 1436.1 735.2C1439.1 738.5 1443.3 745.2 1446.2 747.4C1449.1 749.6 1451.0 749.1 1453.3 748.5C1455.7 747.8 1457.2 746.3 1460.5 743.4C1463.7 740.5 1469.3 733.8 1472.7 731.2C1476.1 728.6 1478.1 728.2 1480.8 727.7C1483.5 727.3 1485.2 727.8 1488.9 728.5C1492.7 729.3 1498.8 731.6 1503.2 732.2C1507.6 732.7 1512.3 731.4 1515.4 731.8C1518.4 732.1 1519.1 732.6 1521.5 734.2C1523.9 735.8 1526.6 738.4 1529.6 741.3C1532.7 744.3 1537.1 749.9 1539.8 751.9C1542.5 754.0 1543.9 753.6 1545.9 753.5C1547.9 753.5 1549.3 753.0 1552.0 751.5C1554.7 750.0 1558.8 746.8 1562.2 744.4C1565.6 742.0 1569.6 738.6 1572.4 737.3C1575.1 736.0 1575.7 736.4 1578.5 736.7C1581.2 736.9 1585.9 738.5 1588.6 738.7C1591.3 738.9 1592.4 738.6 1594.7 737.9C1597.1 737.1 1599.5 736.9 1602.9 734.2C1606.3 731.5 1612.0 724.1 1615.1 721.6C1618.1 719.1 1619.1 719.5 1621.2 719.4C1623.2 719.3 1623.1 718.2 1627.3 721.0C1631.4 723.8 1642.0 733.3 1646.0 736.3C1650.0 739.2 1648.7 738.1 1651.6 738.5C1654.4 738.9 1658.5 737.7 1663.2 738.5C1668.0 739.3 1675.1 741.5 1680.2 743.4C1685.4 745.3 1690.5 749.0 1694.1 749.8C1697.6 750.5 1696.7 749.9 1701.5 747.6C1706.3 745.4 1717.4 738.3 1722.7 736.4C1728.1 734.4 1728.4 735.5 1733.4 735.9C1738.3 736.4 1745.1 739.7 1752.5 738.9C1759.9 738.2 1771.6 732.5 1778.0 731.5C1784.4 730.5 1785.4 733.0 1790.7 732.8C1796.0 732.5 1803.8 729.5 1809.9 730.0C1815.9 730.5 1821.2 733.7 1826.9 735.7C1832.5 737.8 1837.5 741.3 1843.9 742.3C1850.2 743.4 1859.1 742.1 1865.1 742.1C1871.1 742.1 1875.4 742.9 1880.0 742.3C1884.6 741.7 1888.1 740.6 1892.7 738.5C1897.3 736.4 1903.3 731.2 1907.6 729.6C1911.8 728.0 1914.0 728.2 1918.2 728.9C1922.5 729.7 1928.8 731.9 1933.1 734.2C1937.3 736.5 1940.2 740.3 1943.7 742.7C1947.3 745.2 1951.2 748.2 1954.3 749.1C1957.5 750.0 1959.3 749.6 1962.8 748.1C1966.4 746.5 1971.3 742.1 1975.6 739.6C1979.8 737.0 1985.2 733.9 1988.3 732.8C1991.5 731.6 1990.5 732.3 1994.7 732.8C1999.0 733.2 2007.8 735.6 2013.8 735.3C2019.9 735.0 2026.2 731.9 2030.8 731.1C2035.4 730.2 2037.9 729.5 2041.5 730.4C2045.0 731.3 2048.5 734.2 2052.1 736.4C2055.6 738.5 2059.5 741.9 2062.7 743.2C2065.9 744.4 2067.0 744.9 2071.2 743.8C2075.5 742.7 2083.2 738.3 2088.2 736.4C2093.2 734.4 2097.0 732.0 2101.0 732.1C2104.9 732.2 2110.2 736.0 2112.0 736.8" stroke="#404040" stroke-width="2" fill="none" stroke-linejoin="round"/>
<path d="M304.0 859.3 320.3 859.7 330.4 854.6 340.6 858.3 346.7 856.6 350.8 857.2 361.0 861.9 371.1 859.9 379.3 861.9 389.4 858.7 402.7 860.3 407.8 859.3 417.9 852.6 430.1 858.3 442.3 859.7 452.5 856.2 464.7 854.6 475.9 865.4 481.0 864.0 487.1 858.3 491.2 858.3 500.3 862.9 509.5 861.3 521.7 855.6 526.8 857.2 532.9 861.9 538.0 859.3 543.0 853.6 548.1 855.6 555.2 862.9 561.3 863.3 572.5 862.3 582.7 858.3 590.8 857.6 600.0 853.8 605.1 855.2 614.2 863.3 623.4 861.3 634.6 858.9 645.8 865.4 657.0 852.8 662.0 854.2 668.2 858.3 676.3 860.3 682.4 865.0 694.6 860.3 704.8 857.2 717.0 855.8 733.2 855.2 739.4 856.2 745.5 865.0 749.5 867.4 754.0 861.3 755.1 860.3 759.8 852.8 764.2 852.2 774.4 855.2 780.5 859.7 785.6 865.4 790.7 869.0 795.8 866.4 805.9 852.6 811.0 850.1 816.1 853.6 822.2 862.3 826.9 867.0 831.4 865.4 836.5 859.7 842.6 858.7 847.6 858.9 857.8 853.2 862.9 852.8 874.1 855.8 880.2 855.2 890.4 852.2 894.4 852.2 899.5 854.8 909.7 862.3 913.8 861.3 919.9 856.6 925.0 856.6 930.0 859.9 935.1 857.2 940.6 850.5 945.3 853.2 951.4 861.7 955.5 863.3 964.6 858.3 976.8 847.5 981.9 848.1 992.1 855.6 1003.3 860.7 1008.4 860.7 1013.4 858.9 1018.5 861.3 1026.7 871.5 1034.8 872.5 1038.9 874.9 1049.1 893.9 1054.1 891.2 1059.2 884.1 1070.4 876.6 1079.6 860.3 1087.7 847.1 1094.8 827.7 1099.9 810.4 1105.0 797.2 1110.7 791.7 1116.2 795.8 1122.3 813.5 1130.4 864.4 1136.5 894.9 1141.6 909.1 1146.7 909.7 1152.8 889.8 1157.9 875.5 1163.0 867.4 1173.1 870.5 1178.2 873.5 1183.3 879.6 1188.4 881.6 1193.5 869.4 1200.0 847.1 1203.7 839.9 1209.2 833.8 1219.4 820.2 1224.9 825.7 1229.6 841.0 1234.7 855.2 1239.7 861.3 1249.9 866.0 1259.1 865.4 1269.2 866.8 1280.4 871.5 1286.5 876.6 1291.6 879.0 1297.7 872.5 1301.8 862.3 1306.9 854.2 1317.7 845.4 1323.1 845.4 1333.3 849.1 1343.5 858.3 1357.7 860.7 1363.8 857.6 1368.9 856.6 1374.0 864.4 1379.7 874.5 1385.2 876.6 1390.3 876.6 1395.4 880.0 1400.5 880.0 1409.6 859.3 1415.7 849.1 1420.8 843.6 1425.9 839.5 1431.0 839.9 1437.1 845.0 1442.2 848.7 1452.3 847.7 1457.4 849.5 1466.6 856.8 1477.8 860.7 1482.8 867.4 1487.9 876.6 1493.0 879.0 1503.2 871.9 1508.3 866.8 1513.4 857.2 1519.1 848.7 1523.5 848.1 1533.7 854.2 1543.9 856.2 1550.0 858.3 1554.0 857.2 1560.2 852.2 1565.2 850.1 1570.3 852.6 1576.4 857.8 1581.5 860.3 1590.7 861.3 1596.8 865.0 1601.9 869.4 1606.9 870.5 1612.0 865.8 1617.1 861.9 1627.3 860.7 1632.4 859.3 1637.9 852.2 1643.6 846.7 1646.0 847.5 1653.7 850.5 1663.2 843.5 1668.6 845.2 1673.9 855.2 1679.2 866.2 1684.5 870.1 1689.8 866.4 1694.1 864.7 1699.4 870.7 1704.7 874.3 1715.3 860.9 1720.6 859.0 1725.9 860.9 1730.2 860.5 1741.9 852.0 1751.4 846.3 1756.7 847.7 1762.0 854.1 1767.4 857.9 1776.9 855.8 1790.7 857.9 1803.5 855.6 1818.4 854.8 1829.0 867.3 1839.6 862.6 1850.2 867.5 1854.5 865.4 1859.8 861.1 1869.4 859.9 1875.7 856.7 1881.0 855.8 1901.2 864.1 1906.5 862.6 1911.8 854.8 1916.5 850.9 1922.5 857.3 1927.8 860.9 1937.3 857.3 1948.0 854.1 1953.3 855.8 1962.8 866.4 1969.2 868.6 1984.1 868.4 1989.4 866.9 1999.0 854.8 2004.3 853.1 2014.9 856.9 2019.1 855.6 2029.8 848.4 2035.1 849.2 2045.7 855.6 2056.3 861.1 2064.8 862.6 2072.3 864.7 2081.8 860.1 2087.1 861.1 2092.5 864.1 2096.7 864.1 2106.3 854.1 2112.0 850.3" stroke="#404040" stroke-width="2" fill="none" stroke-linejoin="round"/>
<path d="M304.0 980.3L405.7 980.7L507.4 980.3L605.1 981.3L625.4 977.8L641.7 981.9L653.9 981.3L670.2 977.2L678.3 977.6L697.6 986.0L714.9 978.2L727.1 976.2L747.5 982.3L754.0 981.7L765.3 977.8L778.5 980.9L796.8 981.9L813.1 979.9L835.4 980.7L847.6 980.3L859.9 983.7L874.1 979.3L889.4 975.2L894.4 976.2L905.6 983.3L914.8 983.3L929.0 976.2L941.2 973.2L946.3 974.2L957.5 983.3L962.6 984.7L969.7 982.3L982.9 976.2L993.1 975.2L1003.3 972.7C1006.0 972.6 1005.8 971.8 1009.4 974.2C1012.9 976.5 1020.4 983.6 1024.6 987.0C1028.9 990.4 1031.1 991.6 1034.8 994.5C1038.5 997.4 1043.6 1002.3 1047.0 1004.3C1050.4 1006.2 1051.4 1006.0 1055.2 1006.1C1058.9 1006.2 1065.3 1006.4 1069.4 1004.7C1073.5 1002.9 1076.2 999.8 1079.6 995.5C1083.0 991.3 1086.3 986.2 1089.7 979.3C1093.1 972.3 1096.9 962.5 1099.9 953.8C1103.0 945.2 1105.2 934.1 1108.0 927.4C1110.9 920.7 1114.8 914.9 1117.2 913.5C1119.6 912.2 1120.4 915.6 1122.3 919.2C1124.2 922.9 1126.0 926.7 1128.4 935.5C1130.8 944.3 1133.8 960.9 1136.5 972.1C1139.2 983.3 1142.1 995.7 1144.7 1002.6C1147.2 1009.6 1149.6 1011.6 1151.8 1013.8C1154.0 1016.0 1154.3 1016.8 1157.9 1015.9C1161.4 1015.0 1169.6 1009.9 1173.1 1008.3C1176.7 1006.8 1176.9 1007.0 1179.2 1006.7C1181.6 1006.4 1184.8 1007.5 1187.4 1006.7C1189.9 1006.0 1192.4 1004.6 1194.5 1002.2C1196.6 999.9 1197.7 997.0 1200.0 992.5C1202.3 988.0 1205.5 981.1 1208.2 975.2C1210.9 969.3 1213.5 961.2 1216.3 956.9C1219.2 952.6 1222.6 949.9 1225.5 949.3C1228.4 948.8 1230.4 950.7 1233.6 953.8C1236.9 956.9 1241.3 964.2 1244.8 968.1C1248.4 972.0 1251.4 974.8 1255.0 977.2C1258.6 979.6 1262.8 980.3 1266.2 982.3C1269.6 984.3 1272.1 986.4 1275.3 989.4C1278.6 992.4 1282.6 997.8 1285.5 1000.2C1288.4 1002.6 1289.9 1004.5 1292.6 1004.1C1295.3 1003.6 1298.2 1001.9 1301.8 997.6C1305.3 993.3 1310.6 983.3 1314.0 978.2C1317.4 973.2 1319.6 969.4 1322.1 967.0C1324.7 964.7 1326.5 963.7 1329.3 964.0C1332.0 964.3 1335.2 967.0 1338.4 969.1C1341.6 971.1 1345.5 974.8 1348.6 976.2C1351.6 977.6 1353.0 977.6 1356.7 977.6C1360.4 977.6 1367.2 975.9 1371.0 976.2C1374.7 976.5 1375.7 977.1 1379.1 979.3C1382.5 981.5 1387.7 986.7 1391.3 989.4C1394.9 992.1 1397.7 994.6 1400.5 995.5C1403.2 996.5 1404.7 996.5 1407.6 995.1C1410.5 993.8 1413.7 990.5 1417.7 987.4C1421.8 984.2 1427.9 978.6 1432.0 976.2C1436.1 973.8 1438.8 973.0 1442.2 972.7C1445.5 972.5 1448.6 974.0 1452.3 974.8C1456.1 975.5 1459.4 977.3 1464.5 977.2C1469.6 977.1 1478.1 974.3 1482.8 974.2C1487.6 974.0 1488.9 974.5 1493.0 976.2C1497.1 977.9 1502.7 982.4 1507.3 984.3C1511.8 986.3 1516.4 987.7 1520.5 988.0C1524.5 988.3 1527.1 987.3 1531.7 986.0C1536.2 984.6 1542.2 981.4 1547.9 979.9C1553.7 978.3 1560.5 977.3 1566.3 976.8C1572.0 976.4 1576.4 976.6 1582.5 977.2C1588.6 977.8 1596.8 979.1 1602.9 980.3C1609.0 981.5 1613.7 983.3 1619.1 984.3C1624.6 985.4 1630.9 986.4 1635.4 986.4C1639.9 986.4 1642.1 985.5 1646.0 984.3C1649.9 983.2 1654.2 981.1 1659.0 979.4C1663.8 977.7 1670.0 974.4 1674.9 974.1C1679.9 973.7 1683.6 975.6 1688.7 977.2C1693.9 978.9 1701.5 982.7 1705.7 984.0C1710.0 985.4 1710.7 985.5 1714.2 985.3C1717.8 985.1 1722.0 984.3 1727.0 983.0C1731.9 981.7 1738.3 978.7 1744.0 977.7C1749.7 976.6 1754.3 977.1 1761.0 976.6C1767.7 976.1 1778.0 974.6 1784.4 974.7C1790.7 974.8 1793.6 975.5 1799.2 977.2C1804.9 979.0 1812.0 983.2 1818.4 985.1C1824.7 987.0 1831.5 988.3 1837.5 988.5C1843.5 988.7 1848.1 987.6 1854.5 986.2C1860.9 984.7 1869.4 981.7 1875.7 980.0C1882.1 978.3 1887.1 977.0 1892.7 976.2C1898.4 975.4 1903.3 975.0 1909.7 975.1C1916.1 975.2 1924.6 975.9 1931.0 976.8C1937.3 977.7 1940.9 979.4 1948.0 980.4C1955.1 981.5 1966.0 982.9 1973.5 983.0C1980.9 983.1 1986.2 981.6 1992.6 981.1C1999.0 980.5 2004.6 979.6 2011.7 979.8C2018.8 980.0 2028.0 981.8 2035.1 982.1C2042.2 982.5 2047.5 982.3 2054.2 981.9C2060.9 981.6 2065.8 980.4 2075.5 980.0C2085.1 979.6 2105.9 979.5 2112.0 979.4" stroke="#404040" stroke-width="2" fill="none" stroke-linejoin="round"/>
<path d="M304.0 1114.1 312.1 1109.4 324.3 1096.2 330.4 1092.1 335.5 1098.2 340.6 1108.0 345.7 1106.3 351.8 1097.8 356.9 1100.6 362.0 1110.4 367.1 1110.8 372.2 1102.3 377.2 1097.6 387.4 1102.3 397.6 1099.2 403.7 1098.6 413.9 1096.2 424.0 1108.4 429.1 1109.8 436.2 1107.4 444.4 1109.4 449.5 1106.3 460.6 1089.0 465.7 1091.1 471.8 1095.8 476.9 1098.2 482.0 1103.3 491.2 1114.9 496.2 1116.9 501.3 1115.5 507.4 1110.4 511.5 1103.7 516.6 1101.7 522.7 1107.8 527.8 1109.4 532.9 1106.7 542.0 1104.3 548.1 1098.2 554.2 1087.0 562.4 1064.6 568.5 1053.4 573.6 1057.5 580.7 1075.8 588.8 1098.2 594.9 1109.4 601.0 1116.5 610.2 1128.7 615.3 1131.8 621.4 1133.2 626.4 1135.8 630.5 1134.8 639.7 1112.4 645.8 1101.3 651.9 1100.2 662.0 1102.3 668.2 1109.4 672.2 1118.1 677.3 1123.0 682.4 1118.5 688.5 1106.3 696.6 1080.9 702.7 1063.6 707.8 1058.5 712.9 1063.2 719.0 1073.8 724.1 1079.3 728.2 1080.9 733.2 1088.0 739.4 1097.2 747.5 1100.2 754.0 1105.3 765.3 1117.1 770.3 1126.7 775.4 1136.9 780.5 1138.3 790.7 1129.7 795.8 1121.6 805.9 1090.1 811.0 1081.5 816.1 1084.4 826.3 1096.6 837.1 1111.0 842.6 1108.8 851.7 1079.9 857.8 1072.2 862.9 1078.3 878.2 1106.7 883.3 1114.9 893.4 1118.5 899.5 1123.6 904.6 1125.1 914.8 1105.3 920.9 1098.2 930.0 1088.4 935.1 1088.6 941.2 1094.1 955.5 1112.0 960.6 1113.1 965.6 1110.0 971.7 1102.3 976.8 1091.7 981.9 1084.4 987.0 1087.6 997.2 1107.8 1002.3 1110.4 1007.3 1107.0 1012.4 1100.2 1018.1 1096.8 1022.6 1100.2 1028.3 1103.7 1033.8 1097.2 1038.9 1091.1 1044.0 1091.7 1050.1 1101.3 1059.2 1126.7 1064.3 1132.8 1070.4 1126.1 1080.6 1103.3 1089.7 1070.7 1095.8 1049.8 1100.3 1041.2 1105.6 1040.6 1111.1 1047.3 1117.2 1067.7 1126.4 1120.6 1132.5 1145.0 1137.5 1160.3 1141.6 1168.8 1146.7 1168.4 1152.8 1152.1 1163.0 1112.4 1172.1 1080.9 1178.2 1071.8 1184.3 1077.5 1189.4 1097.2 1194.5 1126.7 1200.0 1143.4 1204.1 1141.9 1209.2 1134.8 1214.7 1127.3 1220.4 1113.5 1229.6 1064.6 1235.1 1050.4 1240.3 1052.4 1245.8 1065.7 1255.0 1093.1 1261.1 1103.3 1266.2 1102.3 1271.3 1092.1 1276.4 1078.9 1281.4 1067.7 1286.5 1067.7 1291.6 1078.9 1301.8 1111.4 1312.0 1149.1 1317.7 1153.5 1323.1 1140.9 1329.3 1122.6 1335.4 1107.0 1343.5 1089.0 1348.6 1087.6 1353.7 1095.2 1358.7 1100.6 1368.9 1096.8 1375.0 1100.6 1380.1 1101.3 1389.3 1084.6 1395.4 1088.0 1400.5 1095.2 1405.5 1098.2 1410.6 1101.9 1415.7 1116.5 1420.8 1132.8 1425.9 1135.8 1436.1 1114.5 1441.1 1105.3 1447.2 1098.6 1452.3 1096.8 1457.4 1096.6 1467.6 1099.8 1472.7 1099.6 1477.8 1096.2 1487.9 1085.6 1493.0 1084.4 1499.1 1086.6 1509.3 1086.6 1514.4 1092.7 1519.5 1105.3 1524.5 1113.9 1529.6 1114.1 1534.7 1111.0 1544.9 1112.4 1550.0 1107.8 1555.1 1097.2 1560.2 1094.5 1565.2 1103.3 1570.3 1108.8 1580.5 1108.4 1585.6 1112.4 1590.7 1114.9 1595.8 1113.5 1605.9 1108.0 1617.1 1102.7 1627.3 1091.1 1632.4 1095.8 1637.5 1103.9 1642.5 1103.7 1646.0 1102.3 1648.4 1100.7 1663.2 1095.4 1673.9 1088.0 1684.5 1098.8 1689.8 1097.8 1695.1 1092.2 1699.8 1090.7 1710.0 1105.2 1720.6 1107.7 1731.2 1114.1 1735.5 1113.5 1746.1 1108.2 1756.7 1105.6 1766.9 1098.2 1771.6 1101.8 1777.3 1113.1 1782.2 1114.5 1787.5 1108.2 1798.2 1105.2 1808.8 1096.1 1814.1 1094.6 1823.7 1089.3 1829.0 1094.6 1834.3 1102.4 1839.6 1103.9 1850.2 1088.6 1854.9 1087.6 1865.1 1098.6 1875.7 1097.8 1886.3 1105.2 1891.7 1107.1 1895.9 1104.6 1901.2 1106.0 1906.5 1111.4 1911.8 1109.9 1917.2 1103.1 1922.5 1099.7 1933.1 1105.2 1937.8 1104.6 1942.7 1100.7 1948.0 1101.8 1953.3 1109.4 1958.6 1113.1 1969.2 1103.5 1978.8 1109.4 1984.1 1108.4 1999.0 1097.1 2004.9 1095.0 2009.6 1101.8 2014.9 1111.4 2020.2 1110.3 2025.5 1098.2 2030.4 1090.1 2036.1 1093.5 2041.5 1100.3 2046.8 1100.3 2052.5 1095.0 2057.4 1095.4 2062.7 1098.6 2072.3 1094.4 2082.3 1100.3 2093.5 1093.3 2098.8 1093.3 2104.1 1096.1 2112.0 1106.7" stroke="#404040" stroke-width="2" fill="none" stroke-linejoin="round"/>
<path d="M304.0 1223.3 311.1 1225.7 320.3 1220.2 325.4 1220.2 332.5 1225.7 336.5 1225.9 342.7 1222.7 346.7 1222.3 352.8 1224.3 356.9 1223.9 363.0 1221.2 373.2 1224.7 384.4 1227.7 388.4 1226.9 393.5 1222.3 398.6 1220.8 403.7 1224.3 408.8 1224.3 414.9 1220.6 418.9 1220.6 426.1 1222.7 444.4 1226.7 456.6 1223.9 465.7 1225.3 476.9 1221.6 483.0 1221.8 495.2 1225.3 507.4 1222.7 517.6 1224.9 528.8 1219.2 533.9 1221.6 543.0 1225.7 548.1 1224.3 558.3 1219.2 574.6 1227.7 578.6 1227.7 592.9 1222.3 599.0 1219.8 609.2 1225.9 617.3 1221.6 625.4 1221.6 635.6 1222.9 642.7 1226.9 651.9 1224.9 662.0 1223.7 672.2 1219.6 682.4 1225.3 687.5 1224.3 698.7 1229.4 708.8 1222.3 721.0 1217.8 725.1 1218.2 739.4 1231.0 743.4 1231.0 754.0 1224.9 760.2 1220.6 765.3 1218.8 776.4 1223.7 786.2 1228.4 790.7 1228.4 800.9 1221.6 805.9 1222.3 816.1 1226.7 827.3 1225.7 832.4 1224.3 838.5 1219.8 842.6 1219.6 853.8 1228.4 857.8 1228.4 874.1 1221.2 880.2 1219.6 884.3 1219.6 890.4 1222.3 899.5 1231.4 904.6 1233.0 914.8 1219.6 920.9 1215.7 931.1 1213.5 936.1 1214.5 946.3 1223.7 953.4 1227.3 961.6 1227.7 970.7 1224.3 976.8 1223.9 981.9 1220.2 987.0 1214.7 992.1 1215.1 998.2 1222.3 1003.3 1225.7 1007.3 1224.3 1013.4 1223.9 1018.5 1226.9 1023.6 1228.0 1028.7 1224.3 1038.9 1212.1 1049.5 1197.8 1054.5 1198.2 1060.2 1208.0 1067.4 1223.3 1073.5 1240.6 1079.6 1264.0 1085.7 1279.8 1090.8 1283.3 1095.8 1279.8 1107.0 1253.8 1120.3 1224.3 1125.3 1217.2 1132.5 1211.1 1137.5 1199.9 1142.6 1182.6 1149.8 1162.2 1154.8 1157.2 1157.9 1157.2 1163.0 1164.3 1169.1 1184.6 1175.2 1215.1 1183.3 1255.8 1189.4 1265.0 1194.5 1262.9 1200.0 1245.6 1209.2 1212.1 1214.7 1203.3 1220.0 1206.0 1225.5 1214.1 1230.6 1227.3 1235.7 1243.6 1240.3 1256.8 1245.4 1259.5 1250.5 1254.8 1256.0 1241.6 1261.1 1224.3 1266.2 1212.7 1271.7 1207.6 1276.4 1207.6 1281.8 1210.0 1292.6 1223.3 1297.3 1221.6 1302.8 1216.2 1307.9 1211.7 1313.0 1209.0 1318.1 1208.6 1323.1 1215.7 1328.2 1228.4 1333.3 1236.9 1338.4 1238.9 1348.6 1234.9 1353.7 1231.4 1363.8 1219.2 1368.9 1217.6 1375.0 1219.6 1385.2 1220.6 1389.3 1220.2 1400.5 1215.1 1410.6 1214.1 1415.7 1215.7 1420.8 1224.3 1426.9 1236.9 1432.0 1244.2 1437.1 1245.0 1447.2 1238.5 1452.3 1233.4 1457.4 1226.7 1462.5 1223.7 1472.7 1226.7 1477.8 1226.3 1482.8 1227.3 1487.9 1225.9 1498.1 1210.0 1503.2 1205.0 1509.3 1200.9 1514.4 1197.8 1519.5 1201.3 1529.6 1220.6 1535.7 1231.4 1540.8 1235.9 1545.9 1236.1 1555.1 1231.8 1560.2 1226.3 1565.8 1217.2 1570.9 1214.7 1581.5 1222.7 1586.6 1223.3 1595.8 1224.7 1606.9 1220.6 1617.1 1225.3 1628.3 1229.4 1637.5 1233.8 1646.0 1235.9 1657.9 1235.8 1663.2 1233.0 1673.9 1221.3 1680.2 1218.1 1689.8 1218.1 1700.4 1212.4 1715.3 1215.6 1723.8 1218.8 1731.2 1218.1 1737.6 1221.3 1744.0 1224.9 1753.6 1223.4 1757.8 1223.4 1769.5 1228.3 1780.1 1230.9 1783.3 1230.2 1792.9 1223.4 1803.5 1225.1 1816.2 1221.7 1829.0 1226.2 1834.3 1226.0 1842.8 1222.4 1853.4 1224.5 1860.9 1226.0 1867.2 1228.7 1870.4 1228.7 1876.8 1223.9 1881.0 1223.4 1891.7 1228.7 1902.3 1220.9 1911.8 1222.4 1922.5 1216.0 1932.0 1222.4 1939.5 1219.6 1943.7 1220.2 1950.1 1222.4 1958.6 1222.8 1965.0 1225.1 1973.5 1223.0 1979.8 1226.6 1984.1 1228.3 1990.5 1224.5 1994.7 1223.0 2000.0 1226.0 2004.9 1225.6 2009.6 1219.2 2014.9 1216.4 2025.5 1223.4 2036.1 1223.9 2046.8 1227.0 2056.3 1226.0 2064.8 1226.2 2074.4 1223.9 2086.1 1222.8 2093.5 1222.4 2104.1 1228.1 2112.0 1227.0" stroke="#404040" stroke-width="2" fill="none" stroke-linejoin="round"/>
<path d="M304.0 1345.7L405.7 1345.7L436.2 1346.3L505.4 1346.3L542.0 1344.9L576.6 1346.3L609.2 1345.9L625.4 1341.6L645.8 1347.7L668.2 1341.6L680.4 1344.3L695.6 1353.0L719.0 1338.8L743.4 1349.3L754.0 1347.3L765.3 1340.2L770.3 1339.6L778.5 1344.9L790.7 1353.0L795.8 1351.8L807.0 1343.6L815.1 1341.8L831.4 1344.3L839.5 1348.9L846.6 1351.4L852.7 1345.7L857.8 1341.6L863.9 1344.3L869.0 1346.3L874.1 1343.6L879.2 1339.2L883.9 1337.5L890.4 1341.2L899.5 1348.9L906.6 1350.0L914.8 1348.3L927.0 1340.2L936.1 1336.1L942.2 1337.1L949.4 1344.3L956.5 1353.0L961.6 1354.0L967.7 1349.3L976.8 1340.6L982.9 1339.2L996.2 1339.6L1007.3 1342.6C1011.8 1344.9 1019.4 1351.2 1022.6 1353.0C1025.8 1354.8 1024.6 1353.7 1026.7 1353.4C1028.7 1353.1 1032.4 1351.4 1034.8 1351.4C1037.2 1351.3 1038.2 1351.1 1040.9 1353.0C1043.6 1354.9 1047.7 1359.4 1051.1 1362.6C1054.5 1365.7 1058.4 1369.8 1061.3 1371.7C1064.1 1373.7 1066.0 1374.2 1068.4 1374.2C1070.8 1374.1 1073.5 1372.7 1075.5 1371.3C1077.5 1369.9 1078.9 1368.9 1080.6 1365.6C1082.3 1362.3 1083.1 1359.7 1085.7 1351.4C1088.2 1343.1 1092.8 1326.1 1095.8 1315.8C1098.9 1305.4 1101.4 1295.5 1104.0 1289.3C1106.5 1283.1 1109.1 1280.1 1111.1 1278.5C1113.1 1277.0 1114.3 1277.5 1116.2 1280.2C1118.0 1282.8 1119.6 1285.3 1122.3 1294.4C1125.0 1303.6 1129.4 1322.6 1132.5 1335.1C1135.5 1347.6 1138.4 1362.1 1140.6 1369.7C1142.8 1377.3 1143.8 1378.9 1145.7 1380.9C1147.5 1382.8 1148.9 1382.7 1151.8 1381.5C1154.7 1380.3 1160.1 1375.2 1163.0 1373.8C1165.9 1372.3 1166.7 1372.7 1169.1 1372.7C1171.5 1372.7 1174.5 1374.3 1177.2 1373.8C1179.9 1373.2 1182.6 1373.4 1185.4 1369.7C1188.1 1366.0 1191.0 1358.2 1193.5 1351.4C1195.9 1344.6 1198.2 1334.2 1200.0 1329.0C1201.8 1323.8 1202.6 1323.5 1204.1 1320.5C1205.7 1317.4 1207.5 1312.9 1209.2 1310.7C1210.9 1308.5 1212.5 1306.9 1214.3 1307.2C1216.1 1307.6 1218.0 1309.1 1220.0 1312.7C1222.0 1316.3 1224.1 1322.9 1226.5 1329.0C1229.0 1335.1 1232.3 1345.1 1234.7 1349.3C1237.0 1353.6 1238.6 1353.9 1240.3 1354.4C1242.1 1354.9 1242.8 1354.8 1245.4 1352.4C1248.0 1350.0 1253.4 1342.6 1256.0 1340.2C1258.6 1337.7 1259.4 1338.0 1261.1 1337.7C1262.8 1337.5 1264.5 1337.5 1266.2 1338.6C1267.9 1339.6 1268.7 1340.1 1271.3 1344.3C1273.8 1348.4 1278.9 1359.3 1281.4 1363.6C1284.0 1367.8 1284.8 1368.5 1286.5 1369.7C1288.2 1370.9 1289.9 1371.4 1291.6 1370.7C1293.3 1370.0 1294.2 1370.2 1296.7 1365.6C1299.2 1361.0 1304.2 1349.1 1306.9 1343.2C1309.6 1337.4 1311.2 1333.6 1313.0 1330.6C1314.8 1327.7 1316.1 1326.5 1317.7 1325.5C1319.2 1324.6 1320.8 1324.4 1322.5 1324.9C1324.3 1325.5 1325.6 1325.9 1328.2 1329.0C1330.9 1332.0 1335.2 1339.2 1338.4 1343.2C1341.6 1347.2 1345.0 1351.2 1347.6 1353.0C1350.1 1354.8 1351.0 1354.6 1353.7 1353.8C1356.4 1353.0 1360.6 1349.8 1363.8 1348.3C1367.1 1346.8 1370.8 1345.4 1373.0 1344.9C1375.2 1344.4 1374.0 1344.2 1377.1 1345.3C1380.1 1346.4 1387.2 1349.8 1391.3 1351.4C1395.4 1352.9 1398.6 1354.3 1401.5 1354.4C1404.4 1354.6 1406.2 1353.6 1408.6 1352.4C1411.0 1351.1 1412.8 1349.1 1415.7 1346.9C1418.6 1344.7 1422.8 1340.9 1425.9 1339.2C1428.9 1337.4 1430.3 1337.3 1434.0 1336.5C1437.7 1335.8 1444.2 1334.7 1448.3 1334.7C1452.3 1334.7 1455.0 1335.6 1458.4 1336.7C1461.8 1337.8 1464.9 1339.3 1468.6 1341.2C1472.3 1343.1 1477.1 1346.5 1480.8 1348.3C1484.5 1350.2 1487.6 1351.4 1491.0 1352.4C1494.4 1353.3 1498.1 1354.2 1501.2 1354.0C1504.2 1353.8 1505.9 1352.7 1509.3 1351.4C1512.7 1350.0 1518.4 1346.8 1521.5 1345.9C1524.5 1345.0 1524.5 1345.6 1527.6 1345.9C1530.7 1346.1 1536.4 1347.3 1539.8 1347.3C1543.2 1347.3 1544.2 1347.0 1547.9 1345.7C1551.7 1344.3 1557.8 1340.8 1562.2 1339.2C1566.6 1337.5 1571.3 1336.0 1574.4 1335.7C1577.4 1335.4 1577.8 1335.4 1580.5 1337.1C1583.2 1338.9 1587.4 1343.8 1590.7 1346.3C1593.9 1348.7 1596.4 1350.7 1599.8 1351.8C1603.2 1352.9 1607.1 1353.4 1611.0 1353.0C1614.9 1352.6 1619.5 1350.6 1623.2 1349.3C1626.9 1348.1 1629.6 1346.9 1633.4 1345.7C1637.2 1344.5 1642.1 1342.9 1646.0 1342.2C1649.9 1341.6 1652.8 1342.3 1656.9 1341.8C1661.0 1341.3 1665.7 1338.6 1670.7 1339.1C1675.6 1339.5 1681.8 1342.2 1686.6 1344.4C1691.4 1346.5 1695.1 1350.0 1699.4 1351.8C1703.6 1353.6 1707.5 1355.1 1712.1 1355.0C1716.7 1354.9 1721.7 1353.5 1727.0 1351.4C1732.3 1349.3 1738.0 1344.7 1744.0 1342.2C1750.0 1339.8 1757.1 1337.3 1763.1 1336.5C1769.1 1335.7 1774.8 1336.7 1780.1 1337.6C1785.4 1338.5 1789.0 1340.0 1795.0 1341.8C1801.0 1343.6 1809.9 1346.6 1816.2 1348.2C1822.6 1349.8 1826.9 1350.4 1833.2 1351.4C1839.6 1352.3 1849.5 1353.9 1854.5 1353.9C1859.4 1354.0 1858.4 1353.5 1863.0 1351.8C1867.6 1350.1 1875.0 1346.1 1882.1 1343.9C1889.2 1341.8 1899.5 1339.6 1905.5 1339.1C1911.5 1338.5 1912.6 1339.8 1918.2 1340.5C1923.9 1341.3 1932.7 1343.1 1939.5 1343.7C1946.2 1344.4 1952.6 1343.6 1958.6 1344.4C1964.6 1345.1 1970.3 1347.2 1975.6 1348.2C1980.9 1349.1 1985.9 1350.0 1990.5 1350.1C1995.1 1350.2 1997.9 1349.6 2003.2 1348.6C2008.5 1347.7 2014.5 1344.8 2022.3 1344.4C2030.1 1343.9 2042.5 1346.2 2050.0 1346.1C2057.4 1345.9 2061.3 1344.0 2067.0 1343.3C2072.6 1342.6 2079.3 1341.6 2084.0 1341.6C2088.6 1341.6 2089.9 1342.4 2094.6 1343.3C2099.3 1344.2 2109.1 1346.3 2112.0 1346.9" stroke="#404040" stroke-width="2" fill="none" stroke-linejoin="round"/>
<path d="M304.0 1467.5C314.2 1467.6 345.4 1467.8 365.0 1467.9C384.7 1468.0 401.6 1468.2 422.0 1468.1C442.3 1468.1 466.1 1467.6 487.1 1467.5C508.1 1467.5 525.1 1467.8 548.1 1467.9C571.2 1468.0 606.8 1468.1 625.4 1468.1C644.1 1468.2 652.6 1468.3 660.0 1468.1C667.5 1467.9 666.5 1467.7 670.2 1466.9C673.9 1466.1 679.5 1463.9 682.4 1463.5C685.3 1463.0 684.9 1463.0 687.5 1464.5C690.0 1465.9 695.1 1470.7 697.6 1472.2C700.2 1473.7 701.0 1473.8 702.7 1473.6C704.4 1473.4 705.3 1473.4 707.8 1471.0C710.4 1468.6 715.4 1461.1 718.0 1459.4C720.5 1457.7 720.5 1458.8 723.1 1460.8C725.6 1462.8 730.5 1469.7 733.2 1471.6C736.0 1473.5 736.6 1471.8 739.4 1472.2C742.1 1472.6 747.1 1474.3 749.5 1474.2C752.0 1474.1 751.4 1473.6 754.0 1471.6C756.6 1469.6 762.5 1463.6 765.3 1462.0C768.0 1460.4 767.8 1460.8 770.3 1462.0C772.9 1463.3 778.0 1468.2 780.5 1469.6C783.1 1470.9 782.9 1470.7 785.6 1470.2C788.3 1469.6 794.1 1466.8 796.8 1466.1C799.5 1465.4 799.3 1465.3 801.9 1465.9C804.4 1466.5 809.7 1468.9 812.0 1469.6C814.4 1470.2 813.6 1470.3 816.1 1469.6C818.7 1468.8 824.6 1465.8 827.3 1465.1C830.0 1464.3 829.7 1464.7 832.4 1465.1C835.1 1465.5 840.0 1466.9 843.6 1467.5C847.1 1468.1 850.4 1467.8 853.8 1468.5C857.1 1469.3 861.4 1471.6 863.9 1472.2C866.5 1472.8 866.3 1473.5 869.0 1472.2C871.7 1470.9 877.0 1465.8 880.2 1464.5C883.4 1463.2 884.9 1463.3 888.3 1464.5C891.7 1465.7 897.5 1470.3 900.5 1471.6C903.6 1472.9 903.3 1473.0 906.6 1472.2C910.0 1471.4 917.2 1468.0 920.9 1466.9C924.6 1465.8 925.6 1466.2 929.0 1465.5C932.4 1464.7 938.3 1462.8 941.2 1462.4C944.1 1462.0 943.9 1462.3 946.3 1463.0C948.7 1463.8 952.2 1465.9 955.5 1466.9C958.7 1467.9 962.3 1468.3 965.6 1468.9C969.0 1469.6 973.1 1470.5 975.8 1470.6C978.5 1470.7 978.9 1470.9 981.9 1469.6C985.0 1468.2 991.1 1463.9 994.1 1462.4C997.2 1461.0 998.2 1460.6 1000.2 1460.8C1002.3 1461.0 1003.6 1461.3 1006.3 1463.5C1009.0 1465.6 1013.6 1471.4 1016.5 1473.6C1019.4 1475.8 1021.6 1476.4 1023.6 1476.7C1025.7 1476.9 1025.5 1477.6 1028.7 1475.0C1031.9 1472.5 1039.2 1464.0 1042.9 1461.4C1046.7 1458.8 1047.0 1459.5 1051.1 1459.4C1055.2 1459.3 1061.9 1459.3 1067.4 1460.8C1072.8 1462.3 1079.2 1466.8 1083.6 1468.5C1088.0 1470.2 1089.7 1470.6 1093.8 1471.0C1097.9 1471.3 1104.3 1470.3 1108.0 1470.6C1111.8 1470.8 1113.5 1471.1 1116.2 1472.6C1118.9 1474.1 1121.3 1475.3 1124.3 1479.7C1127.4 1484.1 1131.4 1493.9 1134.5 1499.1C1137.5 1504.2 1140.3 1508.8 1142.6 1510.9C1145.0 1512.9 1146.9 1512.4 1148.7 1511.3C1150.6 1510.1 1151.4 1510.6 1153.8 1504.1C1156.2 1497.7 1160.1 1485.3 1163.0 1472.6C1165.9 1459.9 1168.7 1438.7 1171.1 1427.8C1173.5 1417.0 1175.2 1412.0 1177.2 1407.5C1179.2 1403.0 1181.3 1401.2 1183.3 1401.0C1185.4 1400.8 1186.6 1399.0 1189.4 1406.5C1192.2 1414.0 1196.9 1435.5 1200.0 1446.2C1203.1 1456.8 1205.8 1464.3 1208.2 1470.6C1210.6 1476.8 1211.9 1480.8 1214.3 1483.8C1216.7 1486.8 1220.1 1487.9 1222.4 1488.5C1224.8 1489.0 1225.5 1488.2 1228.5 1487.3C1231.6 1486.3 1237.7 1483.5 1240.8 1482.8C1243.8 1482.0 1244.1 1482.7 1246.9 1482.8C1249.6 1482.8 1254.0 1483.9 1257.0 1483.2C1260.1 1482.5 1262.5 1481.1 1265.2 1478.7C1267.9 1476.3 1270.3 1473.1 1273.3 1468.5C1276.4 1464.0 1280.4 1455.1 1283.5 1451.2C1286.5 1447.3 1288.9 1445.1 1291.6 1445.1C1294.3 1445.1 1296.7 1447.3 1299.8 1451.2C1302.8 1455.1 1306.9 1463.6 1309.9 1468.5C1313.0 1473.5 1315.7 1478.4 1318.1 1480.7C1320.4 1483.1 1322.1 1482.9 1324.2 1482.8C1326.2 1482.6 1327.2 1482.8 1330.3 1479.7C1333.3 1476.7 1339.3 1467.6 1342.5 1464.5C1345.7 1461.3 1347.6 1461.2 1349.6 1460.8C1351.6 1460.4 1352.1 1460.2 1354.7 1462.0C1357.2 1463.8 1361.8 1469.1 1364.9 1471.6C1367.9 1474.0 1370.4 1475.8 1373.0 1476.7C1375.5 1477.6 1377.1 1478.1 1380.1 1477.1C1383.2 1476.1 1387.1 1473.5 1391.3 1470.6C1395.5 1467.6 1402.0 1461.5 1405.5 1459.4C1409.1 1457.2 1409.9 1457.7 1412.7 1457.8C1415.4 1457.9 1417.9 1458.4 1421.8 1460.0C1425.7 1461.6 1431.3 1465.6 1436.1 1467.5C1440.8 1469.5 1445.2 1471.2 1450.3 1471.6C1455.4 1472.0 1460.8 1470.0 1466.6 1470.0C1472.3 1470.0 1480.5 1471.5 1484.9 1471.6C1489.3 1471.7 1488.9 1472.1 1493.0 1470.6C1497.1 1469.0 1504.5 1464.2 1509.3 1462.4C1514.0 1460.7 1517.4 1460.2 1521.5 1460.0C1525.6 1459.8 1529.0 1460.3 1533.7 1461.4C1538.5 1462.6 1545.2 1465.6 1550.0 1466.9C1554.7 1468.3 1557.4 1468.2 1562.2 1469.6C1566.9 1470.9 1574.1 1474.2 1578.5 1475.0C1582.9 1475.9 1584.6 1475.2 1588.6 1474.6C1592.7 1474.1 1597.8 1473.2 1602.9 1471.6C1608.0 1470.0 1614.4 1466.4 1619.1 1465.1C1623.9 1463.7 1626.9 1463.6 1631.4 1463.5C1635.8 1463.3 1640.7 1463.6 1646.0 1464.5C1651.3 1465.3 1657.9 1467.3 1663.2 1468.6C1668.6 1469.9 1673.9 1472.0 1678.1 1472.2C1682.4 1472.5 1683.1 1471.5 1688.7 1470.1C1694.4 1468.7 1705.7 1464.9 1712.1 1463.9C1718.5 1463.0 1720.3 1463.9 1727.0 1464.4C1733.7 1464.9 1743.6 1466.1 1752.5 1466.9C1761.3 1467.7 1771.6 1468.6 1780.1 1469.0C1788.6 1469.4 1794.6 1469.8 1803.5 1469.2C1812.3 1468.6 1824.7 1466.0 1833.2 1465.4C1841.7 1464.9 1847.4 1465.3 1854.5 1465.8C1861.6 1466.4 1869.0 1467.9 1875.7 1468.6C1882.5 1469.3 1889.2 1470.4 1894.8 1470.1C1900.5 1469.8 1904.4 1467.9 1909.7 1466.9C1915.0 1465.9 1921.1 1464.2 1926.7 1463.9C1932.4 1463.7 1937.7 1464.3 1943.7 1465.4C1949.7 1466.6 1956.5 1470.2 1962.8 1470.7C1969.2 1471.3 1975.2 1469.1 1982.0 1468.6C1988.7 1468.1 1996.5 1467.9 2003.2 1468.0C2009.9 1468.0 2014.9 1469.5 2022.3 1469.0C2029.8 1468.6 2040.4 1465.8 2047.8 1465.4C2055.3 1465.0 2060.2 1465.9 2067.0 1466.5C2073.7 1467.1 2080.7 1468.8 2088.2 1469.0C2095.7 1469.3 2108.0 1468.1 2112.0 1468.0" stroke="#808080" stroke-width="2" fill="none" stroke-linejoin="round"/>
<path d="M304.0 1469.9 320.3 1469.9 334.5 1462.7 346.7 1467.4 358.9 1465.8 371.1 1468.8 385.4 1467.4 397.6 1468.8 407.8 1467.4 422.0 1469.2 436.2 1468.4 448.4 1463.1 454.5 1464.8 462.7 1470.5 474.9 1463.8 481.0 1463.8 491.2 1468.8 503.4 1466.2 515.6 1468.8 529.8 1463.1 533.9 1463.8 544.1 1469.9 554.2 1467.8 566.4 1468.8 574.6 1464.2 578.6 1464.2 586.8 1468.4 598.0 1471.5 609.2 1466.8 613.2 1466.8 621.4 1469.4 633.6 1464.8 645.8 1469.9 658.0 1465.8 670.2 1468.8 678.3 1464.8 692.6 1468.8 702.7 1465.4 708.8 1465.8 718.0 1471.5 729.2 1464.2 733.2 1464.8 743.4 1472.9 754.0 1468.4 760.2 1466.4 768.3 1465.4 780.5 1467.2 794.8 1468.8 807.0 1466.4 819.2 1466.8 829.3 1469.4 841.5 1466.2 851.7 1469.2 866.0 1465.4 880.2 1469.2 892.4 1466.4 902.6 1468.4 908.7 1467.8 914.8 1463.3 918.9 1462.1 929.0 1470.9 934.1 1471.9 939.2 1466.8 944.3 1464.2 955.5 1471.9 961.6 1470.9 974.8 1465.8 986.0 1470.9 991.1 1470.9 1001.2 1467.2 1012.4 1471.3 1022.6 1466.2 1034.8 1473.9 1051.1 1480.4 1059.2 1479.0 1069.4 1481.4 1074.5 1477.0 1083.6 1454.6 1099.9 1415.9 1110.1 1404.8 1116.2 1410.9 1122.3 1428.1 1128.4 1456.6 1134.5 1501.4 1140.6 1525.8 1146.7 1534.3 1151.8 1532.9 1156.9 1519.7 1167.0 1479.0 1172.1 1467.8 1177.2 1469.2 1183.3 1472.5 1189.4 1473.9 1200.0 1481.4 1203.1 1481.4 1209.2 1469.9 1213.3 1453.6 1218.4 1439.9 1223.5 1437.3 1238.7 1451.5 1242.8 1456.6 1249.9 1467.8 1255.0 1473.9 1260.1 1473.9 1270.3 1460.7 1275.3 1459.3 1286.5 1462.7 1296.7 1469.9 1301.8 1471.3 1312.0 1469.2 1318.1 1469.9 1327.2 1472.5 1332.3 1471.3 1338.4 1466.8 1342.5 1465.8 1352.6 1476.4 1357.7 1476.6 1368.9 1471.9 1381.1 1467.8 1393.3 1463.1 1399.4 1461.3 1404.5 1463.1 1414.7 1472.3 1419.8 1471.9 1425.9 1468.8 1432.0 1467.2 1438.1 1466.2 1446.2 1463.3 1454.4 1462.3 1461.5 1462.7 1471.7 1465.8 1481.8 1462.1 1492.0 1466.4 1502.2 1462.7 1513.4 1473.3 1523.5 1477.0 1531.7 1474.9 1543.9 1466.8 1554.0 1465.8 1564.2 1467.2 1575.4 1474.9 1580.5 1472.9 1585.6 1467.2 1590.7 1468.2 1596.8 1473.9 1601.9 1474.9 1612.0 1465.8 1623.2 1464.2 1633.4 1460.3 1637.5 1460.3 1646.0 1463.3 1657.9 1454.0 1663.2 1455.5 1673.9 1464.7 1683.4 1460.0 1688.7 1461.5 1699.4 1471.7 1708.9 1472.5 1719.6 1481.7 1725.9 1483.1 1731.2 1482.7 1740.8 1487.0 1746.1 1485.3 1755.7 1476.3 1765.2 1470.4 1775.9 1461.9 1786.5 1456.8 1796.0 1454.7 1807.7 1447.0 1813.0 1449.8 1822.6 1457.9 1833.2 1459.3 1839.6 1466.8 1843.9 1474.2 1849.2 1476.8 1858.7 1470.0 1864.0 1470.4 1870.4 1473.6 1874.7 1473.2 1881.0 1467.8 1885.3 1467.8 1890.6 1470.0 1894.8 1469.5 1901.2 1466.4 1905.5 1466.1 1916.1 1471.0 1922.5 1472.5 1926.7 1475.3 1932.0 1480.6 1936.3 1482.1 1946.9 1474.9 1956.5 1475.7 1962.8 1472.7 1972.4 1460.4 1978.8 1455.5 1983.0 1455.7 1990.5 1457.6 2003.2 1456.2 2009.6 1457.2 2020.2 1464.0 2028.7 1467.8 2041.5 1473.6 2047.8 1473.6 2064.8 1470.4 2077.6 1474.6 2082.9 1474.2 2096.7 1466.8 2105.2 1460.8 2112.0 1458.3" stroke="#808080" stroke-width="2" fill="none" stroke-linejoin="round"/>
<path d="M304.0 1470.2 310.1 1459.0 315.8 1455.0 321.3 1465.1 326.4 1475.7 331.5 1473.3 336.5 1464.1 341.6 1469.2 346.7 1479.8 351.8 1477.3 356.9 1469.2 363.0 1468.2 368.1 1470.8 372.2 1469.6 382.3 1458.4 387.4 1459.4 397.6 1470.8 408.8 1461.5 413.9 1472.3 418.9 1485.1 424.0 1481.8 429.1 1468.2 434.2 1464.1 440.3 1471.2 444.4 1472.9 449.5 1467.2 454.9 1463.7 460.6 1472.3 465.7 1477.7 475.9 1454.6 481.0 1463.1 486.1 1474.3 491.2 1472.3 496.2 1467.8 506.4 1472.9 517.6 1466.2 522.7 1468.8 527.8 1477.7 532.9 1476.9 538.0 1459.0 543.0 1446.8 548.1 1449.9 553.2 1459.6 558.3 1462.1 563.4 1461.1 574.6 1470.2 579.7 1468.2 584.7 1462.7 589.8 1459.4 594.9 1465.1 600.0 1473.9 605.1 1470.6 610.2 1459.0 615.3 1456.4 620.3 1462.1 625.4 1465.5 631.5 1462.1 636.6 1462.1 645.8 1479.8 650.9 1478.4 657.0 1471.6 662.0 1469.2 667.1 1465.7 672.2 1453.3 677.3 1444.4 682.4 1452.9 692.6 1484.5 697.6 1485.5 708.8 1464.7 713.9 1456.6 719.0 1452.5 724.1 1457.0 729.2 1465.1 739.4 1488.5 744.4 1488.5 749.5 1485.5 754.0 1476.3 755.1 1474.3 760.2 1458.0 765.3 1449.5 770.3 1455.0 780.5 1484.5 785.6 1481.4 790.7 1470.2 795.8 1467.6 804.9 1469.2 812.0 1473.7 816.1 1472.9 822.2 1464.1 826.9 1461.7 832.4 1467.2 842.6 1468.2 847.6 1478.4 852.7 1485.9 857.8 1476.3 863.5 1463.1 869.0 1461.1 873.1 1461.1 878.6 1455.0 883.3 1455.4 888.3 1469.2 894.0 1485.9 899.5 1491.6 904.6 1482.4 909.7 1466.2 914.8 1454.4 919.9 1451.3 925.0 1453.3 936.1 1468.6 945.3 1471.9 950.4 1475.3 955.5 1479.8 961.6 1482.4 966.7 1473.3 975.8 1429.9 981.9 1433.0 987.0 1452.9 992.1 1466.2 997.2 1470.2 1002.3 1481.4 1007.3 1494.6 1013.0 1493.6 1018.5 1478.4 1027.7 1438.7 1033.8 1439.1 1042.9 1461.1 1049.1 1479.4 1054.1 1499.7 1059.6 1507.9 1069.4 1485.1 1079.6 1481.4 1084.7 1464.1 1095.8 1406.5 1100.9 1401.7 1111.1 1445.8 1116.2 1459.4 1122.3 1466.2 1131.4 1487.5 1136.5 1496.1 1141.6 1494.6 1152.8 1462.1 1157.9 1451.3 1163.0 1449.9 1168.1 1459.0 1177.2 1482.4 1183.3 1487.5 1193.5 1480.4 1200.0 1466.8 1204.1 1456.6 1209.2 1452.9 1214.3 1471.2 1219.4 1494.6 1224.9 1500.1 1230.6 1494.6 1239.7 1485.9 1244.8 1471.2 1250.9 1438.7 1256.0 1417.3 1261.1 1409.2 1266.2 1418.3 1271.3 1438.7 1276.4 1464.1 1281.4 1480.4 1286.5 1487.5 1291.6 1491.6 1296.7 1488.5 1301.8 1471.2 1307.9 1444.8 1313.0 1429.5 1317.7 1430.6 1323.1 1439.7 1328.2 1452.9 1333.3 1479.4 1338.4 1510.9 1343.5 1518.0 1348.6 1505.8 1353.7 1496.7 1358.7 1491.6 1363.8 1477.3 1368.9 1459.0 1374.6 1446.4 1379.7 1440.3 1385.2 1450.9 1390.3 1471.2 1395.4 1479.8 1400.5 1473.7 1405.5 1473.3 1410.6 1476.9 1415.7 1474.3 1421.8 1468.6 1432.0 1461.7 1437.1 1461.1 1447.2 1479.8 1452.3 1470.6 1457.4 1456.0 1462.5 1449.9 1472.7 1462.1 1477.8 1450.9 1482.8 1431.6 1488.3 1428.1 1498.1 1455.0 1504.2 1458.0 1509.3 1466.2 1514.4 1486.5 1519.5 1499.7 1524.5 1499.3 1529.6 1491.6 1534.7 1488.5 1539.8 1489.1 1544.9 1483.4 1550.0 1467.2 1555.7 1457.6 1565.8 1477.7 1571.3 1470.2 1576.4 1462.5 1581.5 1462.5 1591.7 1472.7 1596.8 1471.6 1601.9 1474.7 1606.9 1483.4 1612.0 1479.4 1617.1 1462.1 1622.2 1452.5 1627.3 1455.0 1632.4 1453.5 1638.5 1448.5 1646.0 1453.9 1649.4 1456.3 1657.9 1458.8 1669.6 1466.3 1674.9 1468.0 1680.2 1466.7 1689.8 1461.0 1695.1 1461.4 1700.4 1469.5 1705.7 1482.2 1710.4 1485.4 1715.9 1479.0 1721.0 1476.3 1727.0 1482.2 1731.2 1484.3 1736.6 1480.7 1746.1 1477.3 1751.4 1471.6 1756.7 1469.5 1767.4 1482.2 1772.7 1479.0 1778.0 1473.7 1787.5 1477.5 1798.2 1461.0 1804.5 1456.7 1813.7 1435.5 1819.0 1441.8 1824.7 1457.8 1829.4 1466.9 1834.3 1467.8 1839.6 1461.0 1844.9 1455.2 1850.2 1452.5 1855.5 1447.8 1860.4 1447.6 1866.2 1454.2 1871.1 1456.7 1875.7 1454.6 1881.0 1459.9 1886.3 1469.0 1891.7 1472.2 1897.0 1477.3 1901.6 1487.5 1906.5 1491.1 1911.8 1485.4 1917.2 1478.4 1922.5 1472.6 1927.8 1470.1 1933.1 1466.3 1937.8 1461.0 1942.7 1461.4 1948.0 1465.2 1953.3 1470.9 1958.6 1481.6 1963.9 1492.8 1969.2 1496.0 1974.5 1490.7 1979.8 1487.5 1984.5 1490.7 1989.4 1483.7 1994.7 1465.2 2000.0 1457.1 2005.3 1467.8 2010.6 1469.9 2020.2 1429.1 2025.5 1417.4 2030.8 1405.7 2036.1 1400.4 2041.5 1424.8 2046.8 1466.3 2052.1 1502.8 2056.8 1510.5 2062.1 1505.6 2067.0 1491.8 2072.3 1470.5 2077.6 1452.5 2082.9 1454.2 2088.2 1468.4 2093.5 1475.4 2098.8 1475.8 2103.1 1477.3 2112.0 1488.6" stroke="#808080" stroke-width="2" fill="none" stroke-linejoin="round"/>
<path d="M304.0 1467.5L344.7 1467.5L373.2 1468.5L399.6 1466.0L440.3 1468.9L460.6 1466.5L483.0 1468.1L493.2 1467.5L507.4 1464.4L523.7 1470.1L548.1 1464.0L564.4 1466.5L582.7 1470.9L592.9 1469.9L611.2 1464.4L621.4 1464.8L641.7 1468.9L662.0 1465.4L678.3 1469.5L692.6 1467.9L704.8 1462.4L712.9 1462.4L720.0 1460.8L725.1 1462.0L735.3 1473.6L746.5 1481.1L754.0 1479.7L755.1 1479.7L761.2 1472.6L767.3 1468.5L776.4 1466.9L786.6 1463.4L797.8 1461.4L809.0 1462.4L818.2 1455.7L823.2 1453.6L829.3 1457.3L839.5 1467.5L849.7 1471.5L857.8 1469.9L863.9 1465.4L870.0 1458.3L875.1 1454.2L880.2 1459.9L890.4 1482.7L896.5 1496.0L901.6 1503.7L906.2 1504.7L912.7 1492.9L920.9 1468.5L931.1 1445.1L937.2 1439.6L942.2 1443.1L951.4 1460.4L957.5 1472.6L962.6 1473.0L967.7 1462.4L973.8 1445.1L978.9 1436.5L984.0 1438.0L990.1 1450.2L998.2 1475.6L1004.3 1492.9L1009.4 1496.0L1014.5 1490.9L1022.6 1475.6L1029.7 1461.8L1034.8 1456.9L1040.9 1460.4L1051.1 1481.7L1056.2 1487.8L1061.3 1487.2L1071.4 1471.5L1080.6 1459.3L1091.8 1443.1L1096.9 1442.0L1103.0 1448.1L1116.2 1472.6L1124.3 1481.7L1129.4 1484.2L1134.5 1484.2L1142.6 1475.6L1153.8 1455.3L1158.9 1449.6L1165.0 1453.2L1175.2 1482.7L1180.3 1491.9L1185.4 1489.2L1192.5 1464.4L1200.0 1429.8L1200.5 1430.9L1205.8 1423.1L1211.3 1432.9L1216.3 1457.3L1221.4 1487.8L1226.5 1517.3L1231.6 1534.0L1236.7 1534.0L1241.8 1519.3L1246.9 1491.9L1251.9 1461.4L1257.0 1435.9L1262.1 1418.6L1267.6 1410.9L1272.9 1411.5L1278.4 1420.7L1284.5 1438.0L1293.6 1469.5C1296.0 1476.1 1297.0 1476.1 1298.7 1477.6C1300.4 1479.2 1301.3 1480.0 1303.8 1478.7C1306.4 1477.3 1311.4 1471.3 1314.0 1469.5C1316.5 1467.7 1317.4 1467.7 1319.1 1468.1C1320.8 1468.4 1321.6 1468.3 1324.2 1471.5C1326.7 1474.8 1331.6 1484.0 1334.3 1487.8C1337.0 1491.6 1338.6 1493.2 1340.4 1494.3C1342.3 1495.4 1343.7 1495.3 1345.5 1494.5C1347.4 1493.8 1349.8 1492.0 1351.6 1489.8C1353.5 1487.7 1354.3 1486.6 1356.7 1481.7C1359.1 1476.8 1363.3 1464.9 1365.9 1460.4C1368.4 1455.8 1370.3 1455.3 1372.0 1454.2C1373.7 1453.2 1374.2 1453.2 1376.0 1454.2C1377.9 1455.3 1380.6 1457.9 1383.2 1460.4C1385.7 1462.8 1388.9 1467.1 1391.3 1468.9C1393.7 1470.7 1395.4 1471.0 1397.4 1471.1C1399.4 1471.2 1400.8 1471.1 1403.5 1469.5C1406.2 1467.9 1410.6 1463.5 1413.7 1461.4C1416.7 1459.3 1419.4 1457.4 1421.8 1456.9C1424.2 1456.4 1425.5 1456.9 1427.9 1458.3C1430.3 1459.7 1433.0 1462.2 1436.1 1465.4C1439.1 1468.7 1443.3 1475.4 1446.2 1477.6C1449.1 1479.8 1451.0 1479.3 1453.3 1478.7C1455.7 1478.0 1457.2 1476.5 1460.5 1473.6C1463.7 1470.7 1469.3 1464.0 1472.7 1461.4C1476.1 1458.8 1478.1 1458.4 1480.8 1457.9C1483.5 1457.5 1485.2 1458.0 1488.9 1458.7C1492.7 1459.5 1498.8 1461.8 1503.2 1462.4C1507.6 1462.9 1512.3 1461.6 1515.4 1462.0C1518.4 1462.3 1519.1 1462.8 1521.5 1464.4C1523.9 1466.0 1526.6 1468.6 1529.6 1471.5C1532.7 1474.5 1537.1 1480.1 1539.8 1482.1C1542.5 1484.2 1543.9 1483.8 1545.9 1483.7C1547.9 1483.7 1549.3 1483.2 1552.0 1481.7C1554.7 1480.2 1558.8 1477.0 1562.2 1474.6C1565.6 1472.2 1569.6 1468.8 1572.4 1467.5C1575.1 1466.2 1575.7 1466.6 1578.5 1466.9C1581.2 1467.1 1585.9 1468.7 1588.6 1468.9C1591.3 1469.1 1592.4 1468.8 1594.7 1468.1C1597.1 1467.3 1599.5 1467.1 1602.9 1464.4C1606.3 1461.7 1612.0 1454.3 1615.1 1451.8C1618.1 1449.3 1619.1 1449.7 1621.2 1449.6C1623.2 1449.5 1623.1 1448.4 1627.3 1451.2C1631.4 1454.0 1642.0 1463.5 1646.0 1466.5C1650.0 1469.4 1648.7 1468.3 1651.6 1468.7C1654.4 1469.1 1658.5 1467.9 1663.2 1468.7C1668.0 1469.5 1675.1 1471.7 1680.2 1473.6C1685.4 1475.5 1690.5 1479.2 1694.1 1480.0C1697.6 1480.7 1696.7 1480.1 1701.5 1477.8C1706.3 1475.6 1717.4 1468.5 1722.7 1466.6C1728.1 1464.6 1728.4 1465.7 1733.4 1466.1C1738.3 1466.6 1745.1 1469.9 1752.5 1469.1C1759.9 1468.4 1771.6 1462.7 1778.0 1461.7C1784.4 1460.7 1785.4 1463.2 1790.7 1463.0C1796.0 1462.7 1803.8 1459.7 1809.9 1460.2C1815.9 1460.7 1821.2 1463.9 1826.9 1465.9C1832.5 1468.0 1837.5 1471.5 1843.9 1472.5C1850.2 1473.6 1859.1 1472.3 1865.1 1472.3C1871.1 1472.3 1875.4 1473.1 1880.0 1472.5C1884.6 1471.9 1888.1 1470.8 1892.7 1468.7C1897.3 1466.6 1903.3 1461.4 1907.6 1459.8C1911.8 1458.2 1914.0 1458.4 1918.2 1459.1C1922.5 1459.9 1928.8 1462.1 1933.1 1464.4C1937.3 1466.7 1940.2 1470.5 1943.7 1472.9C1947.3 1475.4 1951.2 1478.4 1954.3 1479.3C1957.5 1480.2 1959.3 1479.8 1962.8 1478.3C1966.4 1476.7 1971.3 1472.3 1975.6 1469.8C1979.8 1467.2 1985.2 1464.1 1988.3 1463.0C1991.5 1461.8 1990.5 1462.5 1994.7 1463.0C1999.0 1463.4 2007.8 1465.8 2013.8 1465.5C2019.9 1465.2 2026.2 1462.1 2030.8 1461.3C2035.4 1460.4 2037.9 1459.7 2041.5 1460.6C2045.0 1461.5 2048.5 1464.4 2052.1 1466.6C2055.6 1468.7 2059.5 1472.1 2062.7 1473.4C2065.9 1474.6 2067.0 1475.1 2071.2 1474.0C2075.5 1472.9 2083.2 1468.5 2088.2 1466.6C2093.2 1464.6 2097.0 1462.2 2101.0 1462.3C2104.9 1462.4 2110.2 1466.2 2112.0 1467.0" stroke="#808080" stroke-width="2" fill="none" stroke-linejoin="round"/>
<path d="M304.0 1467.8 320.3 1468.2 330.4 1463.1 340.6 1466.8 346.7 1465.1 350.8 1465.7 361.0 1470.4 371.1 1468.4 379.3 1470.4 389.4 1467.2 402.7 1468.8 407.8 1467.8 417.9 1461.1 430.1 1466.8 442.3 1468.2 452.5 1464.7 464.7 1463.1 475.9 1473.9 481.0 1472.5 487.1 1466.8 491.2 1466.8 500.3 1471.4 509.5 1469.8 521.7 1464.1 526.8 1465.7 532.9 1470.4 538.0 1467.8 543.0 1462.1 548.1 1464.1 555.2 1471.4 561.3 1471.8 572.5 1470.8 582.7 1466.8 590.8 1466.1 600.0 1462.3 605.1 1463.7 614.2 1471.8 623.4 1469.8 634.6 1467.4 645.8 1473.9 657.0 1461.3 662.0 1462.7 668.2 1466.8 676.3 1468.8 682.4 1473.5 694.6 1468.8 704.8 1465.7 717.0 1464.3 733.2 1463.7 739.4 1464.7 745.5 1473.5 749.5 1475.9 754.0 1469.8 755.1 1468.8 759.8 1461.3 764.2 1460.7 774.4 1463.7 780.5 1468.2 785.6 1473.9 790.7 1477.5 795.8 1474.9 805.9 1461.1 811.0 1458.6 816.1 1462.1 822.2 1470.8 826.9 1475.5 831.4 1473.9 836.5 1468.2 842.6 1467.2 847.6 1467.4 857.8 1461.7 862.9 1461.3 874.1 1464.3 880.2 1463.7 890.4 1460.7 894.4 1460.7 899.5 1463.3 909.7 1470.8 913.8 1469.8 919.9 1465.1 925.0 1465.1 930.0 1468.4 935.1 1465.7 940.6 1459.0 945.3 1461.7 951.4 1470.2 955.5 1471.8 964.6 1466.8 976.8 1456.0 981.9 1456.6 992.1 1464.1 1003.3 1469.2 1008.4 1469.2 1013.4 1467.4 1018.5 1469.8 1026.7 1480.0 1034.8 1481.0 1038.9 1483.4 1049.1 1502.4 1054.1 1499.7 1059.2 1492.6 1070.4 1485.1 1079.6 1468.8 1087.7 1455.6 1094.8 1436.2 1099.9 1418.9 1105.0 1405.7 1110.7 1400.2 1116.2 1404.3 1122.3 1422.0 1130.4 1472.9 1136.5 1503.4 1141.6 1517.6 1146.7 1518.2 1152.8 1498.3 1157.9 1484.0 1163.0 1475.9 1173.1 1479.0 1178.2 1482.0 1183.3 1488.1 1188.4 1490.1 1193.5 1477.9 1200.0 1455.6 1203.7 1448.4 1209.2 1442.3 1219.4 1428.7 1224.9 1434.2 1229.6 1449.5 1234.7 1463.7 1239.7 1469.8 1249.9 1474.5 1259.1 1473.9 1269.2 1475.3 1280.4 1480.0 1286.5 1485.1 1291.6 1487.5 1297.7 1481.0 1301.8 1470.8 1306.9 1462.7 1317.7 1453.9 1323.1 1453.9 1333.3 1457.6 1343.5 1466.8 1357.7 1469.2 1363.8 1466.1 1368.9 1465.1 1374.0 1472.9 1379.7 1483.0 1385.2 1485.1 1390.3 1485.1 1395.4 1488.5 1400.5 1488.5 1409.6 1467.8 1415.7 1457.6 1420.8 1452.1 1425.9 1448.0 1431.0 1448.4 1437.1 1453.5 1442.2 1457.2 1452.3 1456.2 1457.4 1458.0 1466.6 1465.3 1477.8 1469.2 1482.8 1475.9 1487.9 1485.1 1493.0 1487.5 1503.2 1480.4 1508.3 1475.3 1513.4 1465.7 1519.1 1457.2 1523.5 1456.6 1533.7 1462.7 1543.9 1464.7 1550.0 1466.8 1554.0 1465.7 1560.2 1460.7 1565.2 1458.6 1570.3 1461.1 1576.4 1466.3 1581.5 1468.8 1590.7 1469.8 1596.8 1473.5 1601.9 1477.9 1606.9 1479.0 1612.0 1474.3 1617.1 1470.4 1627.3 1469.2 1632.4 1467.8 1637.9 1460.7 1643.6 1455.2 1646.0 1456.0 1653.7 1459.0 1663.2 1452.0 1668.6 1453.7 1673.9 1463.7 1679.2 1474.7 1684.5 1478.6 1689.8 1474.9 1694.1 1473.2 1699.4 1479.2 1704.7 1482.8 1715.3 1469.4 1720.6 1467.5 1725.9 1469.4 1730.2 1469.0 1741.9 1460.5 1751.4 1454.8 1756.7 1456.2 1762.0 1462.6 1767.4 1466.4 1776.9 1464.3 1790.7 1466.4 1803.5 1464.1 1818.4 1463.3 1829.0 1475.8 1839.6 1471.1 1850.2 1476.0 1854.5 1473.9 1859.8 1469.6 1869.4 1468.4 1875.7 1465.2 1881.0 1464.3 1901.2 1472.6 1906.5 1471.1 1911.8 1463.3 1916.5 1459.4 1922.5 1465.8 1927.8 1469.4 1937.3 1465.8 1948.0 1462.6 1953.3 1464.3 1962.8 1474.9 1969.2 1477.1 1984.1 1476.9 1989.4 1475.4 1999.0 1463.3 2004.3 1461.6 2014.9 1465.4 2019.1 1464.1 2029.8 1456.9 2035.1 1457.7 2045.7 1464.1 2056.3 1469.6 2064.8 1471.1 2072.3 1473.2 2081.8 1468.6 2087.1 1469.6 2092.5 1472.6 2096.7 1472.6 2106.3 1462.6 2112.0 1458.8" stroke="#808080" stroke-width="2" fill="none" stroke-linejoin="round"/>
<path d="M304.0 1467.1L405.7 1467.5L507.4 1467.1L605.1 1468.1L625.4 1464.6L641.7 1468.7L653.9 1468.1L670.2 1464.0L678.3 1464.4L697.6 1472.8L714.9 1465.0L727.1 1463.0L747.5 1469.1L754.0 1468.5L765.3 1464.6L778.5 1467.7L796.8 1468.7L813.1 1466.7L835.4 1467.5L847.6 1467.1L859.9 1470.5L874.1 1466.1L889.4 1462.0L894.4 1463.0L905.6 1470.1L914.8 1470.1L929.0 1463.0L941.2 1460.0L946.3 1461.0L957.5 1470.1L962.6 1471.5L969.7 1469.1L982.9 1463.0L993.1 1462.0L1003.3 1459.5C1006.0 1459.4 1005.8 1458.6 1009.4 1461.0C1012.9 1463.3 1020.4 1470.4 1024.6 1473.8C1028.9 1477.2 1031.1 1478.4 1034.8 1481.3C1038.5 1484.2 1043.6 1489.1 1047.0 1491.1C1050.4 1493.0 1051.4 1492.8 1055.2 1492.9C1058.9 1493.0 1065.3 1493.2 1069.4 1491.5C1073.5 1489.7 1076.2 1486.6 1079.6 1482.3C1083.0 1478.1 1086.3 1473.0 1089.7 1466.1C1093.1 1459.1 1096.9 1449.3 1099.9 1440.6C1103.0 1432.0 1105.2 1420.9 1108.0 1414.2C1110.9 1407.5 1114.8 1401.7 1117.2 1400.3C1119.6 1399.0 1120.4 1402.4 1122.3 1406.0C1124.2 1409.7 1126.0 1413.5 1128.4 1422.3C1130.8 1431.1 1133.8 1447.7 1136.5 1458.9C1139.2 1470.1 1142.1 1482.5 1144.7 1489.4C1147.2 1496.4 1149.6 1498.4 1151.8 1500.6C1154.0 1502.8 1154.3 1503.6 1157.9 1502.7C1161.4 1501.8 1169.6 1496.7 1173.1 1495.1C1176.7 1493.6 1176.9 1493.8 1179.2 1493.5C1181.6 1493.2 1184.8 1494.3 1187.4 1493.5C1189.9 1492.8 1192.4 1491.4 1194.5 1489.0C1196.6 1486.7 1197.7 1483.8 1200.0 1479.3C1202.3 1474.8 1205.5 1467.9 1208.2 1462.0C1210.9 1456.1 1213.5 1448.0 1216.3 1443.7C1219.2 1439.4 1222.6 1436.7 1225.5 1436.1C1228.4 1435.6 1230.4 1437.5 1233.6 1440.6C1236.9 1443.7 1241.3 1451.0 1244.8 1454.9C1248.4 1458.8 1251.4 1461.6 1255.0 1464.0C1258.6 1466.4 1262.8 1467.1 1266.2 1469.1C1269.6 1471.1 1272.1 1473.2 1275.3 1476.2C1278.6 1479.2 1282.6 1484.6 1285.5 1487.0C1288.4 1489.4 1289.9 1491.3 1292.6 1490.9C1295.3 1490.4 1298.2 1488.7 1301.8 1484.4C1305.3 1480.1 1310.6 1470.1 1314.0 1465.0C1317.4 1460.0 1319.6 1456.2 1322.1 1453.8C1324.7 1451.5 1326.5 1450.5 1329.3 1450.8C1332.0 1451.1 1335.2 1453.8 1338.4 1455.9C1341.6 1457.9 1345.5 1461.6 1348.6 1463.0C1351.6 1464.4 1353.0 1464.4 1356.7 1464.4C1360.4 1464.4 1367.2 1462.7 1371.0 1463.0C1374.7 1463.3 1375.7 1463.9 1379.1 1466.1C1382.5 1468.3 1387.7 1473.5 1391.3 1476.2C1394.9 1478.9 1397.7 1481.4 1400.5 1482.3C1403.2 1483.3 1404.7 1483.3 1407.6 1481.9C1410.5 1480.6 1413.7 1477.3 1417.7 1474.2C1421.8 1471.0 1427.9 1465.4 1432.0 1463.0C1436.1 1460.6 1438.8 1459.8 1442.2 1459.5C1445.5 1459.3 1448.6 1460.8 1452.3 1461.6C1456.1 1462.3 1459.4 1464.1 1464.5 1464.0C1469.6 1463.9 1478.1 1461.1 1482.8 1461.0C1487.6 1460.8 1488.9 1461.3 1493.0 1463.0C1497.1 1464.7 1502.7 1469.2 1507.3 1471.1C1511.8 1473.1 1516.4 1474.5 1520.5 1474.8C1524.5 1475.1 1527.1 1474.1 1531.7 1472.8C1536.2 1471.4 1542.2 1468.2 1547.9 1466.7C1553.7 1465.1 1560.5 1464.1 1566.3 1463.6C1572.0 1463.2 1576.4 1463.4 1582.5 1464.0C1588.6 1464.6 1596.8 1465.9 1602.9 1467.1C1609.0 1468.3 1613.7 1470.1 1619.1 1471.1C1624.6 1472.2 1630.9 1473.2 1635.4 1473.2C1639.9 1473.2 1642.1 1472.3 1646.0 1471.1C1649.9 1470.0 1654.2 1467.9 1659.0 1466.2C1663.8 1464.5 1670.0 1461.2 1674.9 1460.9C1679.9 1460.5 1683.6 1462.4 1688.7 1464.0C1693.9 1465.7 1701.5 1469.5 1705.7 1470.8C1710.0 1472.2 1710.7 1472.3 1714.2 1472.1C1717.8 1471.9 1722.0 1471.1 1727.0 1469.8C1731.9 1468.5 1738.3 1465.5 1744.0 1464.5C1749.7 1463.4 1754.3 1463.9 1761.0 1463.4C1767.7 1462.9 1778.0 1461.4 1784.4 1461.5C1790.7 1461.6 1793.6 1462.3 1799.2 1464.0C1804.9 1465.8 1812.0 1470.0 1818.4 1471.9C1824.7 1473.8 1831.5 1475.1 1837.5 1475.3C1843.5 1475.5 1848.1 1474.4 1854.5 1473.0C1860.9 1471.5 1869.4 1468.5 1875.7 1466.8C1882.1 1465.1 1887.1 1463.8 1892.7 1463.0C1898.4 1462.2 1903.3 1461.8 1909.7 1461.9C1916.1 1462.0 1924.6 1462.7 1931.0 1463.6C1937.3 1464.5 1940.9 1466.2 1948.0 1467.2C1955.1 1468.3 1966.0 1469.7 1973.5 1469.8C1980.9 1469.9 1986.2 1468.4 1992.6 1467.9C1999.0 1467.3 2004.6 1466.4 2011.7 1466.6C2018.8 1466.8 2028.0 1468.6 2035.1 1468.9C2042.2 1469.3 2047.5 1469.1 2054.2 1468.7C2060.9 1468.4 2065.8 1467.2 2075.5 1466.8C2085.1 1466.4 2105.9 1466.3 2112.0 1466.2" stroke="#808080" stroke-width="2" fill="none" stroke-linejoin="round"/>
<path d="M304.0 1479.2 312.1 1474.5 324.3 1461.3 330.4 1457.2 335.5 1463.3 340.6 1473.1 345.7 1471.4 351.8 1462.9 356.9 1465.7 362.0 1475.5 367.1 1475.9 372.2 1467.4 377.2 1462.7 387.4 1467.4 397.6 1464.3 403.7 1463.7 413.9 1461.3 424.0 1473.5 429.1 1474.9 436.2 1472.5 444.4 1474.5 449.5 1471.4 460.6 1454.1 465.7 1456.2 471.8 1460.9 476.9 1463.3 482.0 1468.4 491.2 1480.0 496.2 1482.0 501.3 1480.6 507.4 1475.5 511.5 1468.8 516.6 1466.8 522.7 1472.9 527.8 1474.5 532.9 1471.8 542.0 1469.4 548.1 1463.3 554.2 1452.1 562.4 1429.7 568.5 1418.5 573.6 1422.6 580.7 1440.9 588.8 1463.3 594.9 1474.5 601.0 1481.6 610.2 1493.8 615.3 1496.9 621.4 1498.3 626.4 1500.9 630.5 1499.9 639.7 1477.5 645.8 1466.4 651.9 1465.3 662.0 1467.4 668.2 1474.5 672.2 1483.2 677.3 1488.1 682.4 1483.6 688.5 1471.4 696.6 1446.0 702.7 1428.7 707.8 1423.6 712.9 1428.3 719.0 1438.9 724.1 1444.4 728.2 1446.0 733.2 1453.1 739.4 1462.3 747.5 1465.3 754.0 1470.4 765.3 1482.2 770.3 1491.8 775.4 1502.0 780.5 1503.4 790.7 1494.8 795.8 1486.7 805.9 1455.2 811.0 1446.6 816.1 1449.5 826.3 1461.7 837.1 1476.1 842.6 1473.9 851.7 1445.0 857.8 1437.3 862.9 1443.4 878.2 1471.8 883.3 1480.0 893.4 1483.6 899.5 1488.7 904.6 1490.2 914.8 1470.4 920.9 1463.3 930.0 1453.5 935.1 1453.7 941.2 1459.2 955.5 1477.1 960.6 1478.2 965.6 1475.1 971.7 1467.4 976.8 1456.8 981.9 1449.5 987.0 1452.7 997.2 1472.9 1002.3 1475.5 1007.3 1472.1 1012.4 1465.3 1018.1 1461.9 1022.6 1465.3 1028.3 1468.8 1033.8 1462.3 1038.9 1456.2 1044.0 1456.8 1050.1 1466.4 1059.2 1491.8 1064.3 1497.9 1070.4 1491.2 1080.6 1468.4 1089.7 1435.8 1095.8 1414.9 1100.3 1406.3 1105.6 1405.7 1111.1 1412.4 1117.2 1432.8 1126.4 1485.7 1132.5 1510.1 1137.5 1525.4 1141.6 1533.9 1146.7 1533.5 1152.8 1517.2 1163.0 1477.5 1172.1 1446.0 1178.2 1436.9 1184.3 1442.6 1189.4 1462.3 1194.5 1491.8 1200.0 1508.5 1204.1 1507.0 1209.2 1499.9 1214.7 1492.4 1220.4 1478.6 1229.6 1429.7 1235.1 1415.5 1240.3 1417.5 1245.8 1430.8 1255.0 1458.2 1261.1 1468.4 1266.2 1467.4 1271.3 1457.2 1276.4 1444.0 1281.4 1432.8 1286.5 1432.8 1291.6 1444.0 1301.8 1476.5 1312.0 1514.2 1317.7 1518.6 1323.1 1506.0 1329.3 1487.7 1335.4 1472.1 1343.5 1454.1 1348.6 1452.7 1353.7 1460.3 1358.7 1465.7 1368.9 1461.9 1375.0 1465.7 1380.1 1466.4 1389.3 1449.7 1395.4 1453.1 1400.5 1460.3 1405.5 1463.3 1410.6 1467.0 1415.7 1481.6 1420.8 1497.9 1425.9 1500.9 1436.1 1479.6 1441.1 1470.4 1447.2 1463.7 1452.3 1461.9 1457.4 1461.7 1467.6 1464.9 1472.7 1464.7 1477.8 1461.3 1487.9 1450.7 1493.0 1449.5 1499.1 1451.7 1509.3 1451.7 1514.4 1457.8 1519.5 1470.4 1524.5 1479.0 1529.6 1479.2 1534.7 1476.1 1544.9 1477.5 1550.0 1472.9 1555.1 1462.3 1560.2 1459.6 1565.2 1468.4 1570.3 1473.9 1580.5 1473.5 1585.6 1477.5 1590.7 1480.0 1595.8 1478.6 1605.9 1473.1 1617.1 1467.8 1627.3 1456.2 1632.4 1460.9 1637.5 1469.0 1642.5 1468.8 1646.0 1467.4 1648.4 1465.8 1663.2 1460.5 1673.9 1453.1 1684.5 1463.9 1689.8 1462.9 1695.1 1457.3 1699.8 1455.8 1710.0 1470.3 1720.6 1472.8 1731.2 1479.2 1735.5 1478.6 1746.1 1473.3 1756.7 1470.7 1766.9 1463.3 1771.6 1466.9 1777.3 1478.2 1782.2 1479.6 1787.5 1473.3 1798.2 1470.3 1808.8 1461.2 1814.1 1459.7 1823.7 1454.4 1829.0 1459.7 1834.3 1467.5 1839.6 1469.0 1850.2 1453.7 1854.9 1452.7 1865.1 1463.7 1875.7 1462.9 1886.3 1470.3 1891.7 1472.2 1895.9 1469.7 1901.2 1471.1 1906.5 1476.5 1911.8 1475.0 1917.2 1468.2 1922.5 1464.8 1933.1 1470.3 1937.8 1469.7 1942.7 1465.8 1948.0 1466.9 1953.3 1474.5 1958.6 1478.2 1969.2 1468.6 1978.8 1474.5 1984.1 1473.5 1999.0 1462.2 2004.9 1460.1 2009.6 1466.9 2014.9 1476.5 2020.2 1475.4 2025.5 1463.3 2030.4 1455.2 2036.1 1458.6 2041.5 1465.4 2046.8 1465.4 2052.5 1460.1 2057.4 1460.5 2062.7 1463.7 2072.3 1459.5 2082.3 1465.4 2093.5 1458.4 2098.8 1458.4 2104.1 1461.2 2112.0 1471.8" stroke="#808080" stroke-width="2" fill="none" stroke-linejoin="round"/>
<path d="M304.0 1466.7 311.1 1469.1 320.3 1463.6 325.4 1463.6 332.5 1469.1 336.5 1469.3 342.7 1466.1 346.7 1465.7 352.8 1467.7 356.9 1467.3 363.0 1464.6 373.2 1468.1 384.4 1471.1 388.4 1470.3 393.5 1465.7 398.6 1464.2 403.7 1467.7 408.8 1467.7 414.9 1464.0 418.9 1464.0 426.1 1466.1 444.4 1470.1 456.6 1467.3 465.7 1468.7 476.9 1465.0 483.0 1465.2 495.2 1468.7 507.4 1466.1 517.6 1468.3 528.8 1462.6 533.9 1465.0 543.0 1469.1 548.1 1467.7 558.3 1462.6 574.6 1471.1 578.6 1471.1 592.9 1465.7 599.0 1463.2 609.2 1469.3 617.3 1465.0 625.4 1465.0 635.6 1466.3 642.7 1470.3 651.9 1468.3 662.0 1467.1 672.2 1463.0 682.4 1468.7 687.5 1467.7 698.7 1472.8 708.8 1465.7 721.0 1461.2 725.1 1461.6 739.4 1474.4 743.4 1474.4 754.0 1468.3 760.2 1464.0 765.3 1462.2 776.4 1467.1 786.2 1471.8 790.7 1471.8 800.9 1465.0 805.9 1465.7 816.1 1470.1 827.3 1469.1 832.4 1467.7 838.5 1463.2 842.6 1463.0 853.8 1471.8 857.8 1471.8 874.1 1464.6 880.2 1463.0 884.3 1463.0 890.4 1465.7 899.5 1474.8 904.6 1476.4 914.8 1463.0 920.9 1459.1 931.1 1456.9 936.1 1457.9 946.3 1467.1 953.4 1470.7 961.6 1471.1 970.7 1467.7 976.8 1467.3 981.9 1463.6 987.0 1458.1 992.1 1458.5 998.2 1465.7 1003.3 1469.1 1007.3 1467.7 1013.4 1467.3 1018.5 1470.3 1023.6 1471.4 1028.7 1467.7 1038.9 1455.5 1049.5 1441.2 1054.5 1441.6 1060.2 1451.4 1067.4 1466.7 1073.5 1484.0 1079.6 1507.4 1085.7 1523.2 1090.8 1526.7 1095.8 1523.2 1107.0 1497.2 1120.3 1467.7 1125.3 1460.6 1132.5 1454.5 1137.5 1443.3 1142.6 1426.0 1149.8 1405.6 1154.8 1400.6 1157.9 1400.6 1163.0 1407.7 1169.1 1428.0 1175.2 1458.5 1183.3 1499.2 1189.4 1508.4 1194.5 1506.3 1200.0 1489.0 1209.2 1455.5 1214.7 1446.7 1220.0 1449.4 1225.5 1457.5 1230.6 1470.7 1235.7 1487.0 1240.3 1500.2 1245.4 1502.9 1250.5 1498.2 1256.0 1485.0 1261.1 1467.7 1266.2 1456.1 1271.7 1451.0 1276.4 1451.0 1281.8 1453.4 1292.6 1466.7 1297.3 1465.0 1302.8 1459.6 1307.9 1455.1 1313.0 1452.4 1318.1 1452.0 1323.1 1459.1 1328.2 1471.8 1333.3 1480.3 1338.4 1482.3 1348.6 1478.3 1353.7 1474.8 1363.8 1462.6 1368.9 1461.0 1375.0 1463.0 1385.2 1464.0 1389.3 1463.6 1400.5 1458.5 1410.6 1457.5 1415.7 1459.1 1420.8 1467.7 1426.9 1480.3 1432.0 1487.6 1437.1 1488.4 1447.2 1481.9 1452.3 1476.8 1457.4 1470.1 1462.5 1467.1 1472.7 1470.1 1477.8 1469.7 1482.8 1470.7 1487.9 1469.3 1498.1 1453.4 1503.2 1448.4 1509.3 1444.3 1514.4 1441.2 1519.5 1444.7 1529.6 1464.0 1535.7 1474.8 1540.8 1479.3 1545.9 1479.5 1555.1 1475.2 1560.2 1469.7 1565.8 1460.6 1570.9 1458.1 1581.5 1466.1 1586.6 1466.7 1595.8 1468.1 1606.9 1464.0 1617.1 1468.7 1628.3 1472.8 1637.5 1477.2 1646.0 1479.3 1657.9 1479.2 1663.2 1476.4 1673.9 1464.7 1680.2 1461.5 1689.8 1461.5 1700.4 1455.8 1715.3 1459.0 1723.8 1462.2 1731.2 1461.5 1737.6 1464.7 1744.0 1468.3 1753.6 1466.8 1757.8 1466.8 1769.5 1471.7 1780.1 1474.3 1783.3 1473.6 1792.9 1466.8 1803.5 1468.5 1816.2 1465.1 1829.0 1469.6 1834.3 1469.4 1842.8 1465.8 1853.4 1467.9 1860.9 1469.4 1867.2 1472.1 1870.4 1472.1 1876.8 1467.3 1881.0 1466.8 1891.7 1472.1 1902.3 1464.3 1911.8 1465.8 1922.5 1459.4 1932.0 1465.8 1939.5 1463.0 1943.7 1463.6 1950.1 1465.8 1958.6 1466.2 1965.0 1468.5 1973.5 1466.4 1979.8 1470.0 1984.1 1471.7 1990.5 1467.9 1994.7 1466.4 2000.0 1469.4 2004.9 1469.0 2009.6 1462.6 2014.9 1459.8 2025.5 1466.8 2036.1 1467.3 2046.8 1470.4 2056.3 1469.4 2064.8 1469.6 2074.4 1467.3 2086.1 1466.2 2093.5 1465.8 2104.1 1471.5 2112.0 1470.4" stroke="#808080" stroke-width="2" fill="none" stroke-linejoin="round"/>
<path d="M304.0 1467.4L405.7 1467.4L436.2 1468.0L505.4 1468.0L542.0 1466.6L576.6 1468.0L609.2 1467.6L625.4 1463.3L645.8 1469.4L668.2 1463.3L680.4 1466.0L695.6 1474.7L719.0 1460.5L743.4 1471.0L754.0 1469.0L765.3 1461.9L770.3 1461.3L778.5 1466.6L790.7 1474.7L795.8 1473.5L807.0 1465.3L815.1 1463.5L831.4 1466.0L839.5 1470.6L846.6 1473.1L852.7 1467.4L857.8 1463.3L863.9 1466.0L869.0 1468.0L874.1 1465.3L879.2 1460.9L883.9 1459.2L890.4 1462.9L899.5 1470.6L906.6 1471.7L914.8 1470.0L927.0 1461.9L936.1 1457.8L942.2 1458.8L949.4 1466.0L956.5 1474.7L961.6 1475.7L967.7 1471.0L976.8 1462.3L982.9 1460.9L996.2 1461.3L1007.3 1464.3C1011.8 1466.6 1019.4 1472.9 1022.6 1474.7C1025.8 1476.5 1024.6 1475.4 1026.7 1475.1C1028.7 1474.8 1032.4 1473.1 1034.8 1473.1C1037.2 1473.0 1038.2 1472.8 1040.9 1474.7C1043.6 1476.6 1047.7 1481.1 1051.1 1484.3C1054.5 1487.4 1058.4 1491.5 1061.3 1493.4C1064.1 1495.4 1066.0 1495.9 1068.4 1495.9C1070.8 1495.8 1073.5 1494.4 1075.5 1493.0C1077.5 1491.6 1078.9 1490.6 1080.6 1487.3C1082.3 1484.0 1083.1 1481.4 1085.7 1473.1C1088.2 1464.8 1092.8 1447.8 1095.8 1437.5C1098.9 1427.1 1101.4 1417.2 1104.0 1411.0C1106.5 1404.8 1109.1 1401.8 1111.1 1400.2C1113.1 1398.7 1114.3 1399.2 1116.2 1401.9C1118.0 1404.5 1119.6 1407.0 1122.3 1416.1C1125.0 1425.3 1129.4 1444.3 1132.5 1456.8C1135.5 1469.3 1138.4 1483.8 1140.6 1491.4C1142.8 1499.0 1143.8 1500.6 1145.7 1502.6C1147.5 1504.5 1148.9 1504.4 1151.8 1503.2C1154.7 1502.0 1160.1 1496.9 1163.0 1495.5C1165.9 1494.0 1166.7 1494.4 1169.1 1494.4C1171.5 1494.4 1174.5 1496.0 1177.2 1495.5C1179.9 1494.9 1182.6 1495.1 1185.4 1491.4C1188.1 1487.7 1191.0 1479.9 1193.5 1473.1C1195.9 1466.3 1198.2 1455.9 1200.0 1450.7C1201.8 1445.5 1202.6 1445.2 1204.1 1442.2C1205.7 1439.1 1207.5 1434.6 1209.2 1432.4C1210.9 1430.2 1212.5 1428.6 1214.3 1428.9C1216.1 1429.3 1218.0 1430.8 1220.0 1434.4C1222.0 1438.0 1224.1 1444.6 1226.5 1450.7C1229.0 1456.8 1232.3 1466.8 1234.7 1471.0C1237.0 1475.3 1238.6 1475.6 1240.3 1476.1C1242.1 1476.6 1242.8 1476.5 1245.4 1474.1C1248.0 1471.7 1253.4 1464.3 1256.0 1461.9C1258.6 1459.4 1259.4 1459.7 1261.1 1459.4C1262.8 1459.2 1264.5 1459.2 1266.2 1460.3C1267.9 1461.3 1268.7 1461.8 1271.3 1466.0C1273.8 1470.1 1278.9 1481.0 1281.4 1485.3C1284.0 1489.5 1284.8 1490.2 1286.5 1491.4C1288.2 1492.6 1289.9 1493.1 1291.6 1492.4C1293.3 1491.7 1294.2 1491.9 1296.7 1487.3C1299.2 1482.7 1304.2 1470.8 1306.9 1464.9C1309.6 1459.1 1311.2 1455.3 1313.0 1452.3C1314.8 1449.4 1316.1 1448.2 1317.7 1447.2C1319.2 1446.3 1320.8 1446.1 1322.5 1446.6C1324.3 1447.2 1325.6 1447.6 1328.2 1450.7C1330.9 1453.7 1335.2 1460.9 1338.4 1464.9C1341.6 1468.9 1345.0 1472.9 1347.6 1474.7C1350.1 1476.5 1351.0 1476.3 1353.7 1475.5C1356.4 1474.7 1360.6 1471.5 1363.8 1470.0C1367.1 1468.5 1370.8 1467.1 1373.0 1466.6C1375.2 1466.1 1374.0 1465.9 1377.1 1467.0C1380.1 1468.1 1387.2 1471.5 1391.3 1473.1C1395.4 1474.6 1398.6 1476.0 1401.5 1476.1C1404.4 1476.3 1406.2 1475.3 1408.6 1474.1C1411.0 1472.8 1412.8 1470.8 1415.7 1468.6C1418.6 1466.4 1422.8 1462.6 1425.9 1460.9C1428.9 1459.1 1430.3 1459.0 1434.0 1458.2C1437.7 1457.5 1444.2 1456.4 1448.3 1456.4C1452.3 1456.4 1455.0 1457.3 1458.4 1458.4C1461.8 1459.5 1464.9 1461.0 1468.6 1462.9C1472.3 1464.8 1477.1 1468.2 1480.8 1470.0C1484.5 1471.9 1487.6 1473.1 1491.0 1474.1C1494.4 1475.0 1498.1 1475.9 1501.2 1475.7C1504.2 1475.5 1505.9 1474.4 1509.3 1473.1C1512.7 1471.7 1518.4 1468.5 1521.5 1467.6C1524.5 1466.7 1524.5 1467.3 1527.6 1467.6C1530.7 1467.8 1536.4 1469.0 1539.8 1469.0C1543.2 1469.0 1544.2 1468.7 1547.9 1467.4C1551.7 1466.0 1557.8 1462.5 1562.2 1460.9C1566.6 1459.2 1571.3 1457.7 1574.4 1457.4C1577.4 1457.1 1577.8 1457.1 1580.5 1458.8C1583.2 1460.6 1587.4 1465.5 1590.7 1468.0C1593.9 1470.4 1596.4 1472.4 1599.8 1473.5C1603.2 1474.6 1607.1 1475.1 1611.0 1474.7C1614.9 1474.3 1619.5 1472.3 1623.2 1471.0C1626.9 1469.8 1629.6 1468.6 1633.4 1467.4C1637.2 1466.2 1642.1 1464.6 1646.0 1463.9C1649.9 1463.3 1652.8 1464.0 1656.9 1463.5C1661.0 1463.0 1665.7 1460.3 1670.7 1460.8C1675.6 1461.2 1681.8 1463.9 1686.6 1466.1C1691.4 1468.2 1695.1 1471.7 1699.4 1473.5C1703.6 1475.3 1707.5 1476.8 1712.1 1476.7C1716.7 1476.6 1721.7 1475.2 1727.0 1473.1C1732.3 1471.0 1738.0 1466.4 1744.0 1463.9C1750.0 1461.5 1757.1 1459.0 1763.1 1458.2C1769.1 1457.4 1774.8 1458.4 1780.1 1459.3C1785.4 1460.2 1789.0 1461.7 1795.0 1463.5C1801.0 1465.3 1809.9 1468.3 1816.2 1469.9C1822.6 1471.5 1826.9 1472.1 1833.2 1473.1C1839.6 1474.0 1849.5 1475.6 1854.5 1475.6C1859.4 1475.7 1858.4 1475.2 1863.0 1473.5C1867.6 1471.8 1875.0 1467.8 1882.1 1465.6C1889.2 1463.5 1899.5 1461.3 1905.5 1460.8C1911.5 1460.2 1912.6 1461.5 1918.2 1462.2C1923.9 1463.0 1932.7 1464.8 1939.5 1465.4C1946.2 1466.1 1952.6 1465.3 1958.6 1466.1C1964.6 1466.8 1970.3 1468.9 1975.6 1469.9C1980.9 1470.8 1985.9 1471.7 1990.5 1471.8C1995.1 1471.9 1997.9 1471.3 2003.2 1470.3C2008.5 1469.4 2014.5 1466.5 2022.3 1466.1C2030.1 1465.6 2042.5 1467.9 2050.0 1467.8C2057.4 1467.6 2061.3 1465.7 2067.0 1465.0C2072.6 1464.3 2079.3 1463.3 2084.0 1463.3C2088.6 1463.3 2089.9 1464.1 2094.6 1465.0C2099.3 1465.9 2109.1 1468.0 2112.0 1468.6" stroke="#808080" stroke-width="2" fill="none" stroke-linejoin="round"/>
<path d="M304.0 1467.8C311.8 1468.0 332.5 1468.8 350.8 1468.6C369.1 1468.5 397.2 1467.1 413.9 1467.0C430.5 1466.9 441.3 1468.2 450.5 1468.2C459.6 1468.2 463.0 1466.9 468.8 1467.0C474.5 1467.1 475.2 1468.4 485.1 1468.6C494.9 1468.8 517.9 1468.5 527.8 1468.2C537.6 1468.0 536.3 1467.0 544.1 1467.0C551.9 1467.0 555.2 1468.0 574.6 1468.2C593.9 1468.4 645.4 1468.3 660.0 1468.3C674.6 1468.3 660.5 1468.3 662.0 1468.2C663.6 1468.2 668.1 1468.1 669.5 1467.9C670.8 1467.7 668.0 1468.4 670.2 1467.2C672.3 1466.0 680.3 1461.5 682.4 1460.5C684.5 1459.5 681.9 1460.9 682.8 1461.2C683.6 1461.6 685.0 1460.4 687.5 1462.7C690.0 1465.1 695.9 1473.2 697.6 1475.4C699.4 1477.5 697.1 1475.1 698.0 1475.5C698.8 1475.9 701.1 1478.3 702.7 1477.8C704.3 1477.2 706.6 1473.1 707.5 1472.1C708.3 1471.0 706.9 1473.1 707.8 1471.3C708.7 1469.5 711.2 1463.4 712.9 1461.1C714.6 1458.9 715.3 1457.0 717.9 1457.8C720.5 1458.6 726.5 1464.6 728.4 1466.0C730.2 1467.4 728.4 1465.7 729.2 1466.2C730.0 1466.7 730.6 1467.2 733.1 1469.2C735.6 1471.2 741.9 1476.9 744.4 1478.4C747.0 1479.9 747.7 1478.1 748.5 1478.0C749.3 1477.9 748.3 1478.7 749.2 1477.8C750.2 1476.8 753.1 1473.3 754.0 1472.3C754.9 1471.4 753.0 1474.6 754.9 1472.1C756.8 1469.6 762.9 1459.6 765.4 1457.3C767.8 1454.9 767.2 1455.4 769.7 1457.8C772.3 1460.2 778.0 1469.0 780.6 1471.5C783.2 1474.0 783.7 1473.0 785.3 1473.0C786.9 1473.0 787.4 1473.4 790.1 1471.5C792.8 1469.6 798.8 1463.2 801.5 1461.6C804.1 1460.0 803.3 1460.9 805.8 1462.0C808.4 1463.1 813.1 1467.6 816.6 1468.3C820.2 1468.9 823.4 1465.7 827.1 1466.0C830.7 1466.2 835.3 1469.1 838.5 1469.8C841.6 1470.5 842.9 1470.3 846.1 1470.2C849.2 1470.0 853.8 1469.2 857.5 1469.0C861.1 1468.8 864.1 1469.7 867.9 1468.8C871.7 1468.0 877.4 1464.8 880.3 1464.1C883.1 1463.4 881.8 1462.4 885.0 1464.5C888.2 1466.5 896.1 1474.3 899.2 1476.2C902.4 1478.1 901.5 1478.5 904.0 1475.9C906.5 1473.2 911.7 1463.8 914.4 1460.3C917.1 1456.8 918.4 1455.9 920.1 1455.0C921.9 1454.1 923.3 1454.3 924.9 1455.0C926.5 1455.6 927.1 1455.9 929.6 1458.8C932.2 1461.7 937.4 1469.5 940.1 1472.4C942.8 1475.4 944.0 1475.5 945.8 1476.2C947.5 1477.0 948.8 1477.0 950.5 1476.8C952.2 1476.6 953.4 1476.8 956.2 1474.9C959.1 1473.0 964.7 1467.2 967.6 1465.4C970.4 1463.7 971.4 1464.6 973.3 1464.5C975.2 1464.4 975.7 1463.8 979.0 1464.8C982.3 1465.9 990.2 1469.6 993.2 1470.5C996.2 1471.5 995.0 1470.8 997.0 1470.5C999.1 1470.3 1003.7 1469.1 1005.6 1468.8C1007.5 1468.6 1005.7 1467.9 1008.4 1469.2C1011.1 1470.5 1018.5 1475.5 1021.7 1476.4C1024.9 1477.4 1024.6 1477.1 1027.4 1474.9C1030.3 1472.8 1036.1 1465.2 1038.8 1463.5C1041.5 1461.8 1040.5 1461.1 1043.5 1464.8C1046.6 1468.6 1053.4 1482.3 1056.8 1486.3C1060.3 1490.3 1062.2 1488.6 1064.4 1488.8C1066.6 1489.0 1067.7 1489.1 1070.0 1487.6C1072.3 1486.0 1076.5 1481.4 1078.1 1479.4C1079.8 1477.5 1079.3 1476.9 1080.0 1475.9C1080.7 1474.8 1080.5 1478.3 1082.2 1473.3C1083.9 1468.3 1087.3 1456.2 1090.3 1445.9C1093.4 1435.5 1097.8 1418.8 1100.5 1411.3C1103.2 1403.7 1104.8 1402.1 1106.6 1400.7C1108.5 1399.3 1110.0 1401.0 1111.7 1402.7C1113.4 1404.5 1114.9 1407.1 1116.8 1411.3C1118.7 1415.4 1120.9 1421.4 1122.9 1427.5C1124.9 1433.7 1127.0 1440.1 1129.0 1447.9C1131.0 1455.7 1133.1 1465.5 1135.1 1474.3C1137.1 1483.2 1139.2 1493.7 1141.2 1500.8C1143.2 1507.9 1145.4 1513.8 1147.3 1517.1C1149.2 1520.3 1150.7 1519.9 1152.4 1520.1C1154.1 1520.3 1154.9 1520.8 1157.5 1518.1C1160.0 1515.4 1164.3 1508.4 1167.6 1503.8C1171.0 1499.3 1174.4 1493.8 1177.8 1490.6C1181.2 1487.4 1184.6 1485.9 1188.0 1484.5C1191.4 1483.1 1195.5 1483.4 1198.2 1482.1C1200.9 1480.7 1202.2 1479.2 1204.3 1476.4C1206.3 1473.6 1208.0 1470.9 1210.4 1465.2C1212.7 1459.4 1216.1 1447.0 1218.5 1441.8C1220.9 1436.5 1222.7 1435.1 1224.6 1433.7C1226.5 1432.2 1228.0 1432.4 1229.7 1433.0C1231.4 1433.7 1232.6 1434.6 1234.8 1437.7C1237.0 1440.9 1239.9 1446.2 1242.9 1452.0C1246.0 1457.7 1250.0 1467.4 1253.1 1472.3C1256.1 1477.2 1259.0 1479.9 1261.2 1481.5C1263.4 1483.0 1264.6 1482.5 1266.3 1481.5C1268.0 1480.4 1269.2 1479.6 1271.4 1475.4C1273.6 1471.1 1277.2 1462.0 1279.5 1456.0C1281.9 1450.1 1283.6 1443.3 1285.6 1439.8C1287.7 1436.2 1289.9 1435.2 1291.7 1434.7C1293.6 1434.2 1295.1 1435.2 1296.8 1436.7C1298.5 1438.2 1299.7 1439.6 1301.9 1443.8C1304.1 1448.1 1307.3 1455.4 1310.1 1462.1C1312.8 1468.9 1316.0 1479.3 1318.2 1484.5C1320.4 1489.8 1321.8 1492.0 1323.3 1493.7C1324.8 1495.4 1325.7 1495.4 1327.3 1494.7C1329.0 1494.0 1330.9 1493.2 1333.4 1489.6C1336.0 1486.0 1340.1 1476.6 1342.6 1473.3C1345.1 1470.0 1346.8 1470.2 1348.7 1469.9C1350.6 1469.5 1351.4 1469.5 1353.8 1471.3C1356.2 1473.1 1360.1 1477.7 1362.9 1480.4C1365.8 1483.2 1368.9 1486.2 1371.1 1487.6C1373.3 1488.9 1374.5 1488.7 1376.2 1488.6C1377.9 1488.4 1379.1 1488.8 1381.3 1486.5C1383.5 1484.3 1386.3 1481.0 1389.4 1475.4C1392.4 1469.8 1396.2 1458.0 1399.6 1453.0C1403.0 1448.0 1407.0 1446.5 1409.7 1445.5C1412.5 1444.4 1413.1 1444.8 1415.8 1446.9C1418.6 1449.0 1422.3 1453.8 1426.0 1458.1C1429.7 1462.3 1434.8 1468.8 1438.2 1472.3C1441.6 1475.8 1444.0 1477.8 1446.4 1479.0C1448.7 1480.2 1450.1 1480.0 1452.5 1479.4C1454.8 1478.8 1457.2 1477.9 1460.6 1475.4C1464.0 1472.8 1468.7 1467.9 1472.8 1464.2C1476.9 1460.4 1481.6 1455.7 1485.0 1453.0C1488.4 1450.3 1490.8 1448.5 1493.1 1447.9C1495.5 1447.3 1496.9 1448.2 1499.2 1449.5C1501.6 1450.9 1503.9 1451.9 1507.4 1456.0C1510.8 1460.2 1515.8 1470.4 1520.0 1474.3C1524.2 1478.2 1528.3 1478.8 1532.4 1479.4C1536.5 1480.0 1540.2 1478.6 1544.6 1478.0C1549.0 1477.4 1554.1 1475.9 1558.8 1475.8C1563.6 1475.6 1568.3 1477.3 1573.1 1477.0C1577.8 1476.7 1582.9 1475.0 1587.3 1473.9C1591.7 1472.9 1594.8 1472.8 1599.5 1470.7C1604.3 1468.5 1611.0 1463.1 1615.8 1461.1C1620.5 1459.1 1623.2 1459.3 1628.0 1458.7C1632.7 1458.1 1639.5 1458.0 1644.3 1457.5C1649.0 1456.9 1652.6 1456.1 1656.5 1455.4C1660.4 1454.7 1664.6 1453.4 1667.7 1453.4C1670.7 1453.4 1671.9 1453.5 1674.8 1455.4C1677.7 1457.4 1681.2 1461.3 1685.0 1465.2C1688.7 1469.1 1692.9 1475.5 1697.2 1478.8C1701.4 1482.1 1706.7 1484.5 1710.4 1485.1C1714.1 1485.7 1716.0 1484.6 1719.5 1482.5C1723.1 1480.3 1727.7 1475.2 1731.7 1472.3C1735.8 1469.4 1739.9 1466.6 1744.0 1465.2C1748.0 1463.8 1750.1 1463.8 1756.2 1463.8C1762.3 1463.8 1774.1 1465.0 1780.6 1465.2C1787.0 1465.3 1790.7 1463.9 1794.8 1464.6C1798.9 1465.3 1801.3 1467.4 1805.0 1469.3C1808.7 1471.2 1814.0 1474.8 1817.2 1476.0C1820.4 1477.1 1821.3 1477.3 1824.3 1476.0C1827.4 1474.7 1831.3 1471.2 1835.5 1468.2C1839.7 1465.3 1846.0 1460.3 1849.7 1458.5C1853.5 1456.6 1854.8 1456.8 1857.9 1457.0C1860.9 1457.3 1864.3 1458.5 1868.0 1459.7C1871.8 1460.9 1876.2 1463.5 1880.3 1464.2C1884.3 1464.8 1887.7 1463.4 1892.5 1463.8C1897.2 1464.2 1903.6 1464.8 1908.7 1466.6C1913.8 1468.4 1918.6 1472.4 1923.0 1474.3C1927.4 1476.2 1931.1 1477.9 1935.2 1478.0C1939.2 1478.1 1943.3 1475.8 1947.4 1474.7C1951.5 1473.7 1953.8 1473.2 1960.0 1471.9C1966.2 1470.6 1978.6 1468.7 1984.8 1467.2C1991.0 1465.8 1992.8 1464.3 1997.0 1463.2C2001.3 1462.0 2006.5 1460.6 2010.2 1460.5C2014.0 1460.4 2015.8 1461.3 2019.4 1462.5C2023.0 1463.8 2026.9 1466.8 2031.6 1468.2C2036.3 1469.6 2042.5 1471.1 2047.9 1470.9C2053.3 1470.7 2059.4 1468.0 2064.2 1467.2C2068.9 1466.4 2071.3 1466.1 2076.4 1466.2C2081.4 1466.3 2088.6 1467.5 2094.7 1467.6C2100.7 1467.7 2109.6 1466.9 2112.6 1466.8" stroke="#0000ff" stroke-width="2.2" fill="none" stroke-linejoin="round"/><text transform="translate(325.39 234.80) scale(1.010 1)" class="lb">6</text><text transform="translate(352.33 234.80) scale(0.976 1)" class="lb">0</text><text transform="translate(379.03 234.80) scale(0.955 1)" class="lb">7</text><text transform="translate(405.25 234.80) scale(0.941 1)" class="lb">2</text><text transform="translate(431.87 234.80) scale(0.976 1)" class="lb">0</text><text transform="translate(458.38 234.80) scale(0.976 1)" class="lb">0</text><text transform="translate(484.78 234.80) scale(0.941 1)" class="lb">2</text><text transform="translate(511.29 234.80) scale(0.941 1)" class="lb">2</text><text transform="translate(537.38 234.80) scale(1.008 1)" class="lb">9</text><text transform="translate(578.11 234.80) scale(0.948 1)" class="lb">|</text><text transform="translate(605.30 234.80) scale(0.932 1)" class="lb">1</text><text transform="translate(630.77 234.80) scale(1.002 1)" class="lb">.</text><text transform="translate(644.71 234.80) scale(0.976 1)" class="lb">0</text><text transform="translate(671.22 234.80) scale(0.976 1)" class="lb">0</text><text transform="translate(326.17 356.50) scale(0.932 1)" class="lb">1</text><text transform="translate(352.87 356.50) scale(0.937 1)" class="lb">3</text><text transform="translate(378.73 356.50) scale(0.941 1)" class="lb">2</text><text transform="translate(405.35 356.50) scale(0.976 1)" class="lb">0</text><text transform="translate(432.22 356.50) scale(0.932 1)" class="lb">1</text><text transform="translate(458.27 356.50) scale(0.941 1)" class="lb">2</text><text transform="translate(484.78 356.50) scale(0.941 1)" class="lb">2</text><text transform="translate(525.09 356.50) scale(0.948 1)" class="lb">|</text><text transform="translate(551.93 356.50) scale(0.976 1)" class="lb">0</text><text transform="translate(577.75 356.50) scale(1.002 1)" class="lb">.</text><text transform="translate(591.55 356.50) scale(0.987 1)" class="lb">8</text><text transform="translate(617.77 356.50) scale(1.010 1)" class="lb">6</text><text transform="translate(326.17 478.20) scale(0.932 1)" class="lb">1</text><text transform="translate(352.33 478.20) scale(0.976 1)" class="lb">0</text><text transform="translate(379.03 478.20) scale(0.955 1)" class="lb">7</text><text transform="translate(405.25 478.20) scale(0.941 1)" class="lb">2</text><text transform="translate(432.39 478.20) scale(0.921 1)" class="lb">5</text><text transform="translate(458.27 478.20) scale(0.941 1)" class="lb">2</text><text transform="translate(484.88 478.20) scale(0.976 1)" class="lb">4</text><text transform="translate(525.09 478.20) scale(0.948 1)" class="lb">|</text><text transform="translate(551.93 478.20) scale(0.976 1)" class="lb">0</text><text transform="translate(577.75 478.20) scale(1.002 1)" class="lb">.</text><text transform="translate(591.55 478.20) scale(0.987 1)" class="lb">8</text><text transform="translate(618.73 478.20) scale(0.937 1)" class="lb">3</text><text transform="translate(326.17 599.90) scale(0.932 1)" class="lb">1</text><text transform="translate(352.68 599.90) scale(0.932 1)" class="lb">1</text><text transform="translate(379.38 599.90) scale(0.937 1)" class="lb">3</text><text transform="translate(405.22 599.90) scale(0.987 1)" class="lb">8</text><text transform="translate(432.40 599.90) scale(0.937 1)" class="lb">3</text><text transform="translate(458.91 599.90) scale(0.937 1)" class="lb">3</text><text transform="translate(485.42 599.90) scale(0.937 1)" class="lb">3</text><text transform="translate(525.09 599.90) scale(0.948 1)" class="lb">|</text><text transform="translate(551.93 599.90) scale(0.976 1)" class="lb">0</text><text transform="translate(577.75 599.90) scale(1.002 1)" class="lb">.</text><text transform="translate(591.87 599.90) scale(0.955 1)" class="lb">7</text><text transform="translate(618.06 599.90) scale(0.987 1)" class="lb">8</text><text transform="translate(326.17 721.60) scale(0.932 1)" class="lb">1</text><text transform="translate(352.68 721.60) scale(0.932 1)" class="lb">1</text><text transform="translate(378.73 721.60) scale(0.941 1)" class="lb">2</text><text transform="translate(405.35 721.60) scale(0.976 1)" class="lb">0</text><text transform="translate(432.39 721.60) scale(0.921 1)" class="lb">5</text><text transform="translate(458.24 721.60) scale(0.987 1)" class="lb">8</text><text transform="translate(484.78 721.60) scale(0.941 1)" class="lb">2</text><text transform="translate(525.09 721.60) scale(0.948 1)" class="lb">|</text><text transform="translate(551.93 721.60) scale(0.976 1)" class="lb">0</text><text transform="translate(577.75 721.60) scale(1.002 1)" class="lb">.</text><text transform="translate(591.87 721.60) scale(0.955 1)" class="lb">7</text><text transform="translate(618.72 721.60) scale(0.921 1)" class="lb">5</text><text transform="translate(326.17 843.30) scale(0.932 1)" class="lb">1</text><text transform="translate(352.68 843.30) scale(0.932 1)" class="lb">1</text><text transform="translate(378.73 843.30) scale(0.941 1)" class="lb">2</text><text transform="translate(405.35 843.30) scale(0.976 1)" class="lb">4</text><text transform="translate(432.39 843.30) scale(0.921 1)" class="lb">5</text><text transform="translate(458.91 843.30) scale(0.937 1)" class="lb">3</text><text transform="translate(484.35 843.30) scale(1.008 1)" class="lb">9</text><text transform="translate(525.09 843.30) scale(0.948 1)" class="lb">|</text><text transform="translate(551.93 843.30) scale(0.976 1)" class="lb">0</text><text transform="translate(577.75 843.30) scale(1.002 1)" class="lb">.</text><text transform="translate(591.87 843.30) scale(0.955 1)" class="lb">7</text><text transform="translate(618.19 843.30) scale(0.976 1)" class="lb">4</text><text transform="translate(326.17 965.00) scale(0.932 1)" class="lb">1</text><text transform="translate(352.87 965.00) scale(0.937 1)" class="lb">3</text><text transform="translate(378.73 965.00) scale(0.941 1)" class="lb">2</text><text transform="translate(405.25 965.00) scale(0.941 1)" class="lb">2</text><text transform="translate(431.73 965.00) scale(0.987 1)" class="lb">8</text><text transform="translate(458.73 965.00) scale(0.932 1)" class="lb">1</text><text transform="translate(485.41 965.00) scale(0.921 1)" class="lb">5</text><text transform="translate(525.09 965.00) scale(0.948 1)" class="lb">|</text><text transform="translate(551.93 965.00) scale(0.976 1)" class="lb">0</text><text transform="translate(577.75 965.00) scale(1.002 1)" class="lb">.</text><text transform="translate(591.87 965.00) scale(0.955 1)" class="lb">7</text><text transform="translate(618.73 965.00) scale(0.937 1)" class="lb">3</text><text transform="translate(326.17 1086.70) scale(0.932 1)" class="lb">1</text><text transform="translate(352.22 1086.70) scale(0.941 1)" class="lb">2</text><text transform="translate(378.73 1086.70) scale(0.941 1)" class="lb">2</text><text transform="translate(405.71 1086.70) scale(0.932 1)" class="lb">1</text><text transform="translate(431.86 1086.70) scale(0.976 1)" class="lb">4</text><text transform="translate(458.56 1086.70) scale(0.955 1)" class="lb">7</text><text transform="translate(484.46 1086.70) scale(1.010 1)" class="lb">6</text><text transform="translate(525.09 1086.70) scale(0.948 1)" class="lb">|</text><text transform="translate(551.93 1086.70) scale(0.976 1)" class="lb">0</text><text transform="translate(577.75 1086.70) scale(1.002 1)" class="lb">.</text><text transform="translate(591.87 1086.70) scale(0.955 1)" class="lb">7</text><text transform="translate(618.73 1086.70) scale(0.937 1)" class="lb">3</text><text transform="translate(326.17 1208.40) scale(0.932 1)" class="lb">1</text><text transform="translate(352.68 1208.40) scale(0.932 1)" class="lb">1</text><text transform="translate(378.73 1208.40) scale(0.941 1)" class="lb">2</text><text transform="translate(405.88 1208.40) scale(0.921 1)" class="lb">5</text><text transform="translate(432.39 1208.40) scale(0.921 1)" class="lb">5</text><text transform="translate(457.84 1208.40) scale(1.008 1)" class="lb">9</text><text transform="translate(484.88 1208.40) scale(0.976 1)" class="lb">4</text><text transform="translate(525.09 1208.40) scale(0.948 1)" class="lb">|</text><text transform="translate(551.93 1208.40) scale(0.976 1)" class="lb">0</text><text transform="translate(577.75 1208.40) scale(1.002 1)" class="lb">.</text><text transform="translate(591.87 1208.40) scale(0.955 1)" class="lb">7</text><text transform="translate(618.09 1208.40) scale(0.941 1)" class="lb">2</text><text transform="translate(326.17 1330.10) scale(0.932 1)" class="lb">1</text><text transform="translate(352.87 1330.10) scale(0.937 1)" class="lb">3</text><text transform="translate(378.84 1330.10) scale(0.976 1)" class="lb">4</text><text transform="translate(405.35 1330.10) scale(0.976 1)" class="lb">4</text><text transform="translate(432.39 1330.10) scale(0.921 1)" class="lb">5</text><text transform="translate(458.27 1330.10) scale(0.941 1)" class="lb">2</text><text transform="translate(485.24 1330.10) scale(0.932 1)" class="lb">1</text><text transform="translate(525.09 1330.10) scale(0.948 1)" class="lb">|</text><text transform="translate(551.93 1330.10) scale(0.976 1)" class="lb">0</text><text transform="translate(577.75 1330.10) scale(1.002 1)" class="lb">.</text><text transform="translate(591.87 1330.10) scale(0.955 1)" class="lb">7</text><text transform="translate(618.55 1330.10) scale(0.932 1)" class="lb">1</text><rect x="661.7" y="220.4" width="8.2" height="60.4" fill="#ff0000"/><rect x="1079.9" y="220.2" width="8.4" height="60.6" fill="#00e000"/><rect x="1142.6" y="342.1" width="8.6" height="60.6" fill="#00e000"/><rect x="1090.2" y="463.7" width="8.7" height="60.6" fill="#00e000"/><rect x="1091.4" y="585.2" width="8.5" height="60.6" fill="#00e000"/><rect x="912.1" y="707.2" width="8.4" height="60.2" fill="#00e000"/><rect x="1086.1" y="828.3" width="8.3" height="60.9" fill="#00e000"/><rect x="1061.3" y="950.2" width="8.3" height="60.4" fill="#00e000"/><rect x="569.5" y="1071.8" width="8.5" height="60.6" fill="#00e000"/><rect x="1065.9" y="1193.4" width="8.2" height="60.4" fill="#00e000"/><rect x="1081.2" y="1315.2" width="8.2" height="60.4" fill="#00e000"/><rect x="304.5" y="129.5" width="1808.0" height="1429.0" stroke="#262626" stroke-width="2" fill="none"/>
</svg></body></html>
